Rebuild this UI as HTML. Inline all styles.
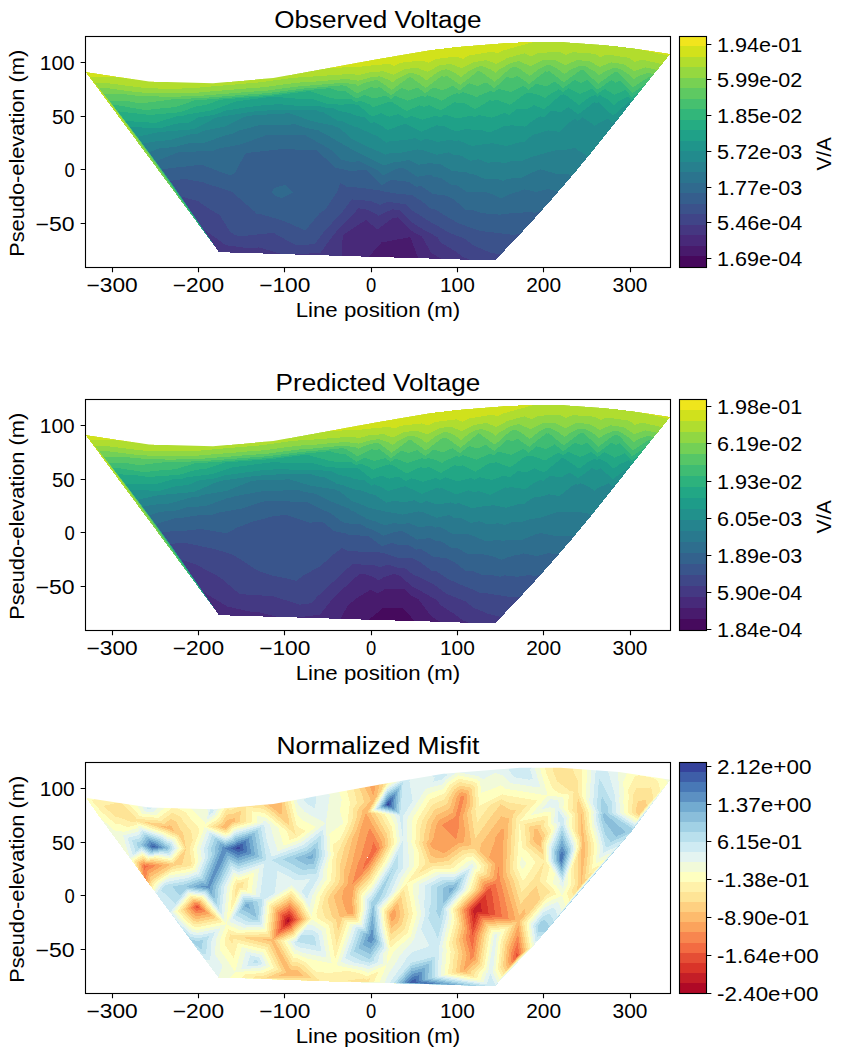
<!DOCTYPE html>
<html><head><meta charset="utf-8"><title>Pseudosections</title>
<style>html,body{margin:0;padding:0;background:#fff}svg{display:block}text{font-family:"Liberation Sans",sans-serif;fill:#000}</style></head>
<body>
<svg width="846" height="1056" viewBox="0 0 846 1056">
<rect width="846" height="1056" fill="#fff"/>
<g shape-rendering="crispEdges">
<path fill="#46085c" d="M389.6 257.3L390.6 256.1L393.1 255.7L393.8 257.5L391.5 257.4Z"/>
<path fill="#481a6c" d="M393.8 257.5L393.1 255.7L390.6 256.1L389.6 257.3L368.8 256.7L381.4 242.5L410.3 237.1L418.3 258.2Z"/>
<path fill="#482979" d="M418.3 258.2L410.3 237.1L381.4 242.5L368.8 256.7L357 256.4L341.9 255.9L342.7 235.4L343.4 234.6L366 219.9L377.2 229.5L392.2 218.4L398.2 217.3L411.6 230.8L414.4 232.7L421.9 236.7L431.2 252.8L441.4 258.9L426 258.4Z"/>
<path fill="#453781" d="M441.4 258.9L431.2 252.8L421.9 236.7L414.4 232.7L411.6 230.8L398.2 217.3L392.2 218.4L377.2 229.5L366 219.9L343.4 234.6L342.7 235.4L341.9 255.9L322.5 255.3L295.4 254.5L320.6 252.6L333.9 234.4L338.4 229.3L343.2 224.3L354.1 213.4L358.1 208.3L362.2 208.7L365.6 209.1L375.9 213.8L378.6 216.1L381.6 213.9L392.9 209.3L396.5 209.9L399.6 210.2L404.2 214.3L412.5 222.7L419.3 227.3L437.6 237.2L440.7 242.6L454.7 250.9L462.9 256.9L469.4 259.7L460.5 259.5ZM218.9 252L203.9 230.1L202.4 227.5L204.2 229.6L225.8 245.2L250.1 248.4L259.1 247.4L281.7 254.1L253.5 253.2L219 252.2Z"/>
<path fill="#404588" d="M469.4 259.7L462.9 256.9L454.7 250.9L440.7 242.6L437.6 237.2L419.3 227.3L412.5 222.7L404.2 214.3L399.6 210.2L396.5 209.9L392.9 209.3L381.6 213.9L378.6 216.1L375.9 213.8L365.6 209.1L362.2 208.7L358.1 208.3L354.1 213.4L343.2 224.3L338.4 229.3L333.9 234.4L320.6 252.6L295.4 254.5L288 254.3L281.7 254.1L259.1 247.4L250.1 248.4L225.8 245.2L204.2 229.6L202.4 227.5L203.9 230.1L218.9 252L218.7 251.8L182.5 198.8L181.3 196.7L197.6 200.8L210.9 210L219.7 215L229.7 231.3L235.3 235.3L241.6 236.2L271.5 233L273 232.8L273.3 232.9L273.6 233L296.4 245.5L314.8 244.1L322 234.1L333.2 221.7L341.2 213.3L345 208.2L351.9 199.4L363.1 200.3L372.4 201.6L379.8 204.9L387.8 201.7L397.2 203.3L405.1 203.9L413.6 211.5L418.8 214.6L426.2 219.6L437.9 226L446.2 231.1L449.6 233L463.6 238.1L473.7 245.4L489.4 252.3L500.5 254.7L495 260.5Z"/>
<path fill="#3b528b" d="M500.5 254.7L489.4 252.3L473.7 245.4L463.6 238.1L449.6 233L446.2 231.1L437.9 226L426.2 219.6L418.8 214.6L413.6 211.5L405.1 203.9L397.2 203.3L387.8 201.7L379.8 204.9L372.4 201.6L363.1 200.3L351.9 199.4L345 208.2L341.2 213.3L333.2 221.7L322 234.1L314.8 244.1L296.4 245.5L273.6 233L273.3 232.9L273 232.8L271.5 233L241.6 236.2L235.3 235.3L229.7 231.3L219.7 215L210.9 210L197.6 200.8L181.3 196.7L182.5 198.8L218.7 251.8L218.4 251.4L174.3 186.9L170.1 181L184.4 178.9L202.3 182.1L214 186L231.4 191.5L238 197.1L255.1 212L256.3 214L259.4 213.7L284.5 221.2L305.3 230.5L319.8 213L324.9 209.9L337.2 192L340.3 182.9L347.3 187.1L351.1 187L364.4 188.2L380.3 190.6L381.2 191.5L381.8 191.1L386.4 191.9L398.2 193.9L412.9 195.1L415.1 197.1L421.4 200.8L431.2 208.9L435.3 209.4L444.7 215.3L447.6 217.1L458.5 223.2L473.4 228.7L480.8 231.2L486.6 231.6L510.9 234.6L515.1 234.6L520.4 233.8L514.5 240.1Z"/>
<path fill="#355e8d" d="M520.4 233.8L515.1 234.6L510.9 234.6L486.6 231.6L480.8 231.2L473.4 228.7L458.5 223.2L447.6 217.1L444.7 215.3L435.3 209.4L431.2 208.9L421.4 200.8L415.1 197.1L412.9 195.1L398.2 193.9L386.4 191.9L381.8 191.1L381.2 191.5L380.3 190.6L364.4 188.2L351.1 187L347.3 187.1L340.3 182.9L337.2 192L324.9 209.9L319.8 213L305.3 230.5L284.5 221.2L259.4 213.7L256.3 214L255.1 212L238 197.1L231.4 191.5L214 186L202.3 182.1L184.4 178.9L170.1 181L174.3 186.9L218.4 251.4L218.1 251L174.1 186.6L161.7 169.4L171.1 168L190.3 166.1L201.4 164.5L220.6 172L226.7 174.1L230.9 175.4L235.2 172.4L242.3 159L245.7 153.5L247.8 153.1L248.9 152.7L279.7 149.3L285.8 149.3L316.2 150L317.3 150.6L317.8 150.9L332.5 165.4L334.8 167.6L348.9 170.6L349.1 170.7L366.2 170.3L366.3 170.3L366.4 170.3L381.9 184.9L391.8 179.7L399.5 181L408.8 181.7L416.2 186.8L420.8 186L430.6 192.3L432.7 194L447.2 195.8L449.6 197.3L455.1 200.4L465.7 209.8L470.7 209.6L482.6 213.3L497.5 214.3L499.7 215.3L502.9 213.6L517.2 213.4L529.3 211.6L534.6 213L541.6 210.6L534 219.2ZM274.4 187.9L271.3 192.3L274.7 195.6L281.9 198L293 192.3L285.1 184.8Z"/>
<path fill="#306a8e" d="M541.6 210.6L534.6 213L529.3 211.6L517.2 213.4L502.9 213.6L499.7 215.3L497.5 214.3L482.6 213.3L470.7 209.6L465.7 209.8L455.1 200.4L449.6 197.3L447.2 195.8L432.7 194L430.6 192.3L420.8 186L416.2 186.8L408.8 181.7L399.5 181L391.8 179.7L381.9 184.9L366.4 170.3L366.3 170.3L366.2 170.3L349.1 170.7L348.9 170.6L334.8 167.6L332.5 165.4L317.8 150.9L317.3 150.6L316.2 150L285.8 149.3L279.7 149.3L248.9 152.7L247.8 153.1L245.7 153.5L242.3 159L235.2 172.4L230.9 175.4L226.7 174.1L220.6 172L201.4 164.5L190.3 166.1L171.1 168L161.7 169.4L174.1 186.6L218.1 251L217.6 250.3L173.8 186.2L159.4 166.3L155.7 161.3L178.4 152.3L179.6 152.2L181.8 151.8L211.7 151.2L219.2 148.5L240.7 144.4L267.1 134.9L268 134.8L299.3 134.8L304.5 134.9L322.4 144.8L331.4 150.1L333.9 152.6L341.7 159.9L350 161.7L360.1 161.4L366.8 164.9L369.7 166.2L376.9 169.9L382.9 175.6L394.4 169.6L399.7 167.9L400.9 167.8L402.4 167.5L406.3 169.4L417.2 176.9L430.4 174.6L434.4 177.1L440.7 177.8L450.9 184.6L456.4 185.1L467.4 192.1L483.2 191.7L484.7 192.3L485.9 192.2L491.8 194.1L501.4 198.4L508.3 194.8L516.9 191.7L519.4 191.5L524 189.3L536.6 192L548.4 188.9L554.1 190.6L559 190.9L553.5 197.4ZM285.1 184.8L293 192.3L281.9 198L274.7 195.6L271.3 192.3L274.4 187.9Z"/>
<path fill="#2b748e" d="M559 190.9L554.1 190.6L548.4 188.9L536.6 192L524 189.3L519.4 191.5L516.9 191.7L508.3 194.8L501.4 198.4L491.8 194.1L485.9 192.2L484.7 192.3L483.2 191.7L467.4 192.1L456.4 185.1L450.9 184.6L440.7 177.8L434.4 177.1L430.4 174.6L417.2 176.9L406.3 169.4L402.4 167.5L400.9 167.8L399.7 167.9L394.4 169.6L382.9 175.6L376.9 169.9L369.7 166.2L366.8 164.9L360.1 161.4L350 161.7L341.7 159.9L333.9 152.6L331.4 150.1L322.4 144.8L304.5 134.9L299.3 134.8L268 134.8L267.1 134.9L240.7 144.4L219.2 148.5L211.7 151.2L181.8 151.8L179.6 152.2L178.4 152.3L155.7 161.3L159.4 166.3L173.8 186.2L217.6 250.3L216.9 249.3L173.3 185.6L159 165.8L149.1 152.3L158.5 148.6L175.4 146.9L189.3 143.1L204.9 142.7L225.6 135.2L232 133.9L237.6 131L259.9 125L276.4 125.1L295.9 124.3L305.7 127.8L318.5 130.4L329.7 136.6L335.3 139.9L351.4 149.1L351.4 149.1L351.4 149.1L351.4 149.1L367.6 157.5L374.5 160.6L384 165.5L395.5 161.8L401.5 161.5L408.7 160L418.4 164.7L431.3 163L435.6 164.5L439.5 163.8L449.6 169.3L452.2 171L467.2 172.4L469.2 173.7L472.1 173.6L485.9 179.4L497.2 178.8L503.1 180.7L508.9 178.6L520.7 178.1L533.4 172L537.4 170.3L538.7 169.9L540.8 169.4L555.5 173.5L555.7 173.5L572.9 174.8Z"/>
<path fill="#27808e" d="M572.9 174.8L555.7 173.5L555.5 173.5L540.8 169.4L538.7 169.9L537.4 170.3L533.4 172L520.7 178.1L508.9 178.6L503.1 180.7L497.2 178.8L485.9 179.4L472.1 173.6L469.2 173.7L467.2 172.4L452.2 171L449.6 169.3L439.5 163.8L435.6 164.5L431.3 163L418.4 164.7L408.7 160L401.5 161.5L395.5 161.8L384 165.5L374.5 160.6L367.6 157.5L351.4 149.1L351.4 149.1L351.4 149.1L351.4 149.1L335.3 139.9L329.7 136.6L318.5 130.4L305.7 127.8L295.9 124.3L276.4 125.1L259.9 125L237.6 131L232 133.9L225.6 135.2L204.9 142.7L189.3 143.1L175.4 146.9L158.5 148.6L149.1 152.3L159 165.8L173.3 185.6L216.9 249.3L215.9 247.9L172.6 184.7L158.4 165L144.5 146.2L142.7 143.8L151.7 141.8L169.9 140L189.8 134.5L197.8 133.8L203.5 130.8L225.5 126.3L244.3 116.7L252.1 115.5L253.9 115.2L286.8 113.4L287.5 113.4L290 113.4L311.6 121.1L334.1 125.8L336.7 127.3L337.7 127.5L340.2 128.6L352.4 139.4L357.6 141.7L368.7 147.2L370.9 148.1L381.3 152.7L385.1 154.7L389.7 153.2L402.5 152.5L417.5 149.3L419.8 150.4L422.9 150L436.6 154.8L448.9 152.3L453.8 155L461 155.6L470.5 160.9L478.1 159.3L487.5 162.6L499 162.1L504.7 163.5L511.7 161L522.3 160.7L530 157.5L540.1 154.5L556.5 150L557.8 150.4L559.3 150.5L569.4 149.2L575.4 147.8L577.7 150L588.1 156.5L573 174.8Z"/>
<path fill="#228b8d" d="M588.1 156.5L577.7 150L575.4 147.8L569.4 149.2L559.3 150.5L557.8 150.4L556.5 150L540.1 154.5L530 157.5L522.3 160.7L511.7 161L504.7 163.5L499 162.1L487.5 162.6L478.1 159.3L470.5 160.9L461 155.6L453.8 155L448.9 152.3L436.6 154.8L422.9 150L419.8 150.4L417.5 149.3L402.5 152.5L389.7 153.2L385.1 154.7L381.3 152.7L370.9 148.1L368.7 147.2L357.6 141.7L352.4 139.4L340.2 128.6L337.7 127.5L336.7 127.3L334.1 125.8L311.6 121.1L290 113.4L287.5 113.4L286.8 113.4L253.9 115.2L252.1 115.5L244.3 116.7L225.5 126.3L203.5 130.8L197.8 133.8L189.8 134.5L169.9 140L151.7 141.8L142.7 143.8L144.5 146.2L158.4 165L172.6 184.7L215.9 247.9L214.4 246L171.7 183.5L157.6 164L143.9 145.4L137.4 136.8L158.4 132.1L163.7 132.3L166.3 131.5L194 129.2L215.7 117.8L218 117.4L219.4 116.9L249.2 112.2L258 111L283.6 109.6L290.4 110.1L316.3 110.4L319.9 111.7L323.7 112.5L337.4 120.5L342.7 121.5L353.8 126.5L357.1 127.2L366.4 131.4L370.2 133.2L378.3 136.6L386.3 142.7L391.1 140.9L403.7 140.3L415 138L420.8 140.9L426.1 138.6L437.8 141.9L451.2 139.6L455.1 141.4L458.5 140.4L470.4 145.4L471.8 146.3L475.5 145.5L487.9 143.5L489.3 143.9L491.2 143L506.2 146L506.4 146L506.4 146L521 141.8L523.9 142.1L532.2 135.2L542.1 132.2L548.1 130.4L559.5 131.9L568.5 123.1L574.9 118.9L577.7 121L582.5 117.4L594.2 125.3L594.7 125.9L595.1 125.3L607.6 118.6L612.3 123.2L620.4 116.2L611.9 126.9L592.4 151.3Z"/>
<path fill="#1f958b" d="M620.4 116.2L612.3 123.2L607.6 118.6L595.1 125.3L594.7 125.9L594.2 125.3L582.5 117.4L577.7 121L574.9 118.9L568.5 123.1L559.5 131.9L548.1 130.4L542.1 132.2L532.2 135.2L523.9 142.1L521 141.8L506.4 146L506.4 146L506.2 146L491.2 143L489.3 143.9L487.9 143.5L475.5 145.5L471.8 146.3L470.4 145.4L458.5 140.4L455.1 141.4L451.2 139.6L437.8 141.9L426.1 138.6L420.8 140.9L415 138L403.7 140.3L391.1 140.9L386.3 142.7L378.3 136.6L370.2 133.2L366.4 131.4L357.1 127.2L353.8 126.5L342.7 121.5L337.4 120.5L323.7 112.5L319.9 111.7L316.3 110.4L290.4 110.1L283.6 109.6L258 111L249.2 112.2L219.4 116.9L218 117.4L215.7 117.8L194 129.2L166.3 131.5L163.7 132.3L158.4 132.1L137.4 136.8L143.9 145.4L157.6 164L171.7 183.5L214.4 246L212.4 243.3L170.3 181.7L156.5 162.6L143 144.3L129.9 127L160.4 128.3L175.7 123.7L188.7 122.6L198.8 117.3L215.5 114.5L225.9 110.6L245.2 107.5L264 105.1L278.9 104.2L294.5 105.5L318.3 105.7L323.6 107.4L334.1 108.3L338.5 110.9L349.8 113.1L355 115.4L364.7 117.5L371.2 123.1L374.2 122.1L381.2 125.3L387.6 130.2L405.3 123.6L405.4 123.6L405.4 123.6L421.7 131.6L436.6 125.2L439.3 126L442.4 125.5L456 131.5L468.2 128.4L473.3 130.5L479.5 129.5L490.3 132.6L504.8 125.4L508.1 126.1L511.3 125.2L525.3 126.6L532 121.1L540.2 116.2L543.4 117.6L551 110.9L561.2 112L568.6 107.1L578.3 114.4L594.4 102L596.6 103.4L598.9 102.2L612.9 115.8L628.9 102L630.8 101.1L631.5 101.8L632.2 101.4L631.4 102.3Z"/>
<path fill="#1fa188" d="M632.2 101.4L631.5 101.8L630.8 101.1L628.9 102L612.9 115.8L598.9 102.2L596.6 103.4L594.4 102L578.3 114.4L568.6 107.1L561.2 112L551 110.9L543.4 117.6L540.2 116.2L532 121.1L525.3 126.6L511.3 125.2L508.1 126.1L504.8 125.4L490.3 132.6L479.5 129.5L473.3 130.5L468.2 128.4L456 131.5L442.4 125.5L439.3 126L436.6 125.2L421.7 131.6L405.4 123.6L405.4 123.6L405.3 123.6L387.6 130.2L381.2 125.3L374.2 122.1L371.2 123.1L364.7 117.5L355 115.4L349.8 113.1L338.5 110.9L334.1 108.3L323.6 107.4L318.3 105.7L294.5 105.5L278.9 104.2L264 105.1L245.2 107.5L225.9 110.6L215.5 114.5L198.8 117.3L188.7 122.6L175.7 123.7L160.4 128.3L129.9 127L143 144.3L156.5 162.6L170.3 181.7L212.4 243.3L209.6 239.5L168.4 179.2L154.9 160.6L141.7 142.6L128.9 125.7L124.9 120.5L138.2 122L155.8 122.8L176.5 116.4L183.1 115.8L186.5 114.6L212.1 110.4L235.2 101.6L239.6 100.9L272.2 96.7L272.3 96.7L272.3 96.7L272.4 96.7L300.3 98.9L312.8 99L326.7 103.6L339.2 104.6L354.9 104.3L356.1 105L356.9 104.7L358.8 105.4L371.9 116.6L381.3 113.2L389 116.7L398.8 114.1L405.9 118.4L411.2 116L422.8 119.7L436 115.4L440.2 117.4L445.1 114.4L457.2 118.4L471.1 115.6L474.5 117.5L478.6 114.9L491.7 117.7L504.2 113L509.2 114.8L517.6 108.6L526.9 109.4L534 105.1L544.1 109.4L559.9 95.7L561.9 94.5L562.6 95.1L563.6 94.4L567.3 96.1L579.1 105.1L588.4 97.9L595 94.9L597.2 96.9L599.8 95L608.1 99.8L613.8 105.3L618.9 101L628.4 96.5L631.6 99.8L635.3 97.5Z"/>
<path fill="#25ac82" d="M635.3 97.5L631.6 99.8L628.4 96.5L618.9 101L613.8 105.3L608.1 99.8L599.8 95L597.2 96.9L595 94.9L588.4 97.9L579.1 105.1L567.3 96.1L563.6 94.4L562.6 95.1L561.9 94.5L559.9 95.7L544.1 109.4L534 105.1L526.9 109.4L517.6 108.6L509.2 114.8L504.2 113L491.7 117.7L478.6 114.9L474.5 117.5L471.1 115.6L457.2 118.4L445.1 114.4L440.2 117.4L436 115.4L422.8 119.7L411.2 116L405.9 118.4L398.8 114.1L389 116.7L381.3 113.2L371.9 116.6L358.8 105.4L356.9 104.7L356.1 105L354.9 104.3L339.2 104.6L326.7 103.6L312.8 99L300.3 98.9L272.4 96.7L272.3 96.7L272.3 96.7L272.2 96.7L239.6 100.9L235.2 101.6L212.1 110.4L186.5 114.6L183.1 115.8L176.5 116.4L155.8 122.8L138.2 122L124.9 120.5L128.9 125.7L141.7 142.6L154.9 160.6L168.4 179.2L209.6 239.5L205.5 234L165.7 175.8L152.7 157.7L139.9 140.3L127.5 124L117.8 111.3L146.6 114.6L149.4 115.1L149.7 115L180.1 112.2L196.2 106.4L207.2 104.6L220.3 99.7L237.3 98.3L238.7 98.2L271.6 95.9L273.3 95.6L306.6 91.4L306.9 91.4L309.8 91.2L331.2 98.3L339.8 99L350.6 98.7L356.4 102.4L360.2 100.6L369.3 104.3L372.9 107.4L387.1 102.3L390.2 101.5L390.5 101.8L390.8 101.6L391.5 101.8L406.6 111L419.6 105.3L424.1 106.7L429.2 105.1L440.8 110.5L454.7 102.1L458.6 103.4L463.1 102.5L475.3 109.2L489.9 100.2L493.2 100.9L496.4 99.7L510.1 104.8L523.9 94.6L527.2 92.9L528.2 93.6L529.7 92.5L538.2 94.9L545.1 97.9L548.1 95.3L559 89.2L562.9 92.2L568.3 88.3L580.1 94L591.8 88.8L597.4 93.9L604.5 88.8L614.7 94.8L625.1 89.9L631.9 97L639.7 92Z"/>
<path fill="#32b67a" d="M639.7 92L631.9 97L625.1 89.9L614.7 94.8L604.5 88.8L597.4 93.9L591.8 88.8L580.1 94L568.3 88.3L562.9 92.2L559 89.2L548.1 95.3L545.1 97.9L538.2 94.9L529.7 92.5L528.2 93.6L527.2 92.9L523.9 94.6L510.1 104.8L496.4 99.7L493.2 100.9L489.9 100.2L475.3 109.2L463.1 102.5L458.6 103.4L454.7 102.1L440.8 110.5L429.2 105.1L424.1 106.7L419.6 105.3L406.6 111L391.5 101.8L390.8 101.6L390.5 101.8L390.2 101.5L387.1 102.3L372.9 107.4L369.3 104.3L360.2 100.6L356.4 102.4L350.6 98.7L339.8 99L331.2 98.3L309.8 91.2L306.9 91.4L306.6 91.4L273.3 95.6L271.6 95.9L238.7 98.2L237.3 98.3L220.3 99.7L207.2 104.6L196.2 106.4L180.1 112.2L149.7 115L149.4 115.1L146.6 114.6L117.8 111.3L127.5 124L139.9 140.3L152.7 157.7L165.7 175.8L205.5 234L199.9 226.4L161.9 170.9L149.5 153.6L137.3 137.1L125.5 121.5L114 106.6L113.1 105.3L119 105.5L145.6 110.2L157.2 108.8L175.8 107.1L195.6 100L203 99.8L204.2 99.7L236.3 97.2L240 96.8L270.6 94.7L274.6 94.1L305.5 90.2L308.1 90L329.9 88.2L337.6 90.7L340.7 91L344.6 90.9L356.8 98.7L364.7 94.9L373.8 98.5L385.8 95.5L390.8 99.1L395.1 95.9L407.1 100.3L407.6 100.6L408.9 100.1L422.8 95.5L425 97L427.2 95.4L435.2 97.8L441.8 100.8L448.2 96.9L457.3 92.8L459.5 94.3L462.4 92L473.2 95.7L476.4 97.5L479.5 95.5L491.1 90.6L493.9 92.7L498.3 88.8L511.2 92L523.2 85.8L528.6 89.6L536.3 83.7L546.1 86.5L554.8 81.6L563.2 88.1L574.8 79.8L581 82.8L587.2 80L597.8 89.7L611.2 80.1L615.7 82.7L620.3 80.5L632.2 93L645.8 84.3Z"/>
<path fill="#46c06f" d="M645.8 84.3L632.2 93L620.3 80.5L615.7 82.7L611.2 80.1L597.8 89.7L587.2 80L581 82.8L574.8 79.8L563.2 88.1L554.8 81.6L546.1 86.5L536.3 83.7L528.6 89.6L523.2 85.8L511.2 92L498.3 88.8L493.9 92.7L491.1 90.6L479.5 95.5L476.4 97.5L473.2 95.7L462.4 92L459.5 94.3L457.3 92.8L448.2 96.9L441.8 100.8L435.2 97.8L427.2 95.4L425 97L422.8 95.5L408.9 100.1L407.6 100.6L407.1 100.3L395.1 95.9L390.8 99.1L385.8 95.5L373.8 98.5L364.7 94.9L356.8 98.7L344.6 90.9L340.7 91L337.6 90.7L329.9 88.2L308.1 90L305.5 90.2L274.6 94.1L270.6 94.7L240 96.8L236.3 97.2L204.2 99.7L203 99.8L195.6 100L175.8 107.1L157.2 108.8L145.6 110.2L119 105.5L113.1 105.3L114 106.6L125.5 121.5L137.3 137.1L149.5 153.6L161.9 170.9L199.9 226.4L191.8 215.5L156.6 163.9L145 147.9L133.6 132.5L122.7 118L112 104.1L109.2 100.5L126.7 100.9L140.3 103.4L167.8 100.1L169.8 99.9L171.9 99.1L201.7 98.2L206.3 97.7L234.8 95.5L242 94.9L269.1 93L276.5 91.9L304 88.5L309.7 88.1L340.3 85.5L342 85.4L345.5 85.8L357.4 93.4L371.2 86.8L374.9 88.3L379.7 87.1L391.1 95.3L401.3 88L408.6 90.6L417.5 87.7L425.4 93.2L433.1 87.4L442.7 90.3L452.8 85.7L459.8 90.4L469.1 83.1L477.4 86L486.1 82.3L494.4 88.2L506.9 77.1L512.4 78.5L517.5 75.8L529.1 84L545.5 71.3L547.4 71.8L549 70.9L563.7 82.3L580.5 70.3L581.8 69.7L582.5 69.8L583.7 70.5L598.3 83.8L613.5 72.8L615.9 71.8L617.3 72L619.4 73.5L632.7 87.3L648.1 77.5L650.3 76.8L651.6 77.1L650.9 78Z"/>
<path fill="#5ec962" d="M651.6 77.1L650.3 76.8L648.1 77.5L632.7 87.3L619.4 73.5L617.3 72L615.9 71.8L613.5 72.8L598.3 83.8L583.7 70.5L582.5 69.8L581.8 69.7L580.5 70.3L563.7 82.3L549 70.9L547.4 71.8L545.5 71.3L529.1 84L517.5 75.8L512.4 78.5L506.9 77.1L494.4 88.2L486.1 82.3L477.4 86L469.1 83.1L459.8 90.4L452.8 85.7L442.7 90.3L433.1 87.4L425.4 93.2L417.5 87.7L408.6 90.6L401.3 88L391.1 95.3L379.7 87.1L374.9 88.3L371.2 86.8L357.4 93.4L345.5 85.8L342 85.4L340.3 85.5L309.7 88.1L304 88.5L276.5 91.9L269.1 93L242 94.9L234.8 95.5L206.3 97.7L201.7 98.2L171.9 99.1L169.8 99.9L167.8 100.1L140.3 103.4L126.7 100.9L109.2 100.5L112 104.1L122.7 118L133.6 132.5L145 147.9L156.6 163.9L191.8 215.5L180.5 200.2L149 154.1L138.6 139.8L128.5 126.1L118.7 113.1L109.2 100.7L103.8 93.7L124.9 94.2L134.1 95.4L135.4 95.6L167.2 96.8L171.7 96.8L199.8 95.9L209.2 95L232.8 93.2L244.7 92.2L267.1 90.6L279.2 88.9L301.9 86L311.9 85.4L338.4 83.1L344.1 82.8L355.6 84.3L358.1 86L364.4 83L374.7 80.2L376.6 80L379.1 80.9L391.7 89.9L409.9 76.7L410 76.7L410 76.7L425.9 87.9L441.5 76.1L444 76.9L446.6 75.7L460.4 84.9L478.6 70.6L478.8 70.6L479 70.6L494.9 81.8L509.9 68.6L512.5 67.2L514.6 66.6L519 68.4L529.8 76L539.6 68.5L545.9 65.4L550.1 65.2L557.8 69L564.5 74.1L570.6 69.7L579.6 65.8L585.3 66.2L594.5 71.3L599 75.4L603.7 72L613.8 67.9L619.9 68.8L629.1 74.8L633.4 79.3L638.4 76.2L648.3 72.9L654 74.1Z"/>
<path fill="#77d153" d="M654 74.1L648.3 72.9L638.4 76.2L633.4 79.3L629.1 74.8L619.9 68.8L613.8 67.9L603.7 72L599 75.4L594.5 71.3L585.3 66.2L579.6 65.8L570.6 69.7L564.5 74.1L557.8 69L550.1 65.2L545.9 65.4L539.6 68.5L529.8 76L519 68.4L514.6 66.6L512.5 67.2L509.9 68.6L494.9 81.8L479 70.6L478.8 70.6L478.6 70.6L460.4 84.9L446.6 75.7L444 76.9L441.5 76.1L425.9 87.9L410 76.7L410 76.7L409.9 76.7L391.7 89.9L379.1 80.9L376.6 80L374.7 80.2L364.4 83L358.1 86L355.6 84.3L344.1 82.8L338.4 83.1L311.9 85.4L301.9 86L279.2 88.9L267.1 90.6L244.7 92.2L232.8 93.2L209.2 95L199.8 95.9L171.7 96.8L167.2 96.8L135.4 95.6L134.1 95.4L124.9 94.2L103.8 93.7L109.2 100.7L118.7 113.1L128.5 126.1L138.6 139.8L149 154.1L180.5 200.2L164.5 178.6L138.3 140.3L129.7 128.3L121.3 116.9L113.1 106.2L105.2 95.8L98.8 87.5L102.8 87.6L131 91.4L139.6 92.4L164.3 93.4L175.8 93.4L197.1 92.7L213.4 91.2L229.8 89.9L248.5 88.3L264.2 87.2L283 84.5L298.9 82.6L315.1 81.6L335.7 79.8L347 79.1L358.7 80.7L372.2 77L379.4 76.4L388.6 79.6L392.5 82.3L398 78.3L407.8 73.5L412.7 73L419.6 75.4L426.6 80.4L436.1 73.2L442.8 69.8L446.5 69.3L453 71.7L461.1 77.1L469.1 70.8L476.8 66.9L481.9 66.1L491.2 69.6L495.7 72.8L499.9 69.1L510.2 63.4L518.6 61.1L530.6 66.2L543 60.1L554.2 59.7L565.2 65.2L576.7 60.1L589.2 61L599.7 66.9L610.9 62.4L623.5 64.2L634.1 71.1L645.5 67.4L657.3 70Z"/>
<path fill="#95d840" d="M657.3 70L645.5 67.4L634.1 71.1L623.5 64.2L610.9 62.4L599.7 66.9L589.2 61L576.7 60.1L565.2 65.2L554.2 59.7L543 60.1L530.6 66.2L518.6 61.1L510.2 63.4L499.9 69.1L495.7 72.8L491.2 69.6L481.9 66.1L476.8 66.9L469.1 70.8L461.1 77.1L453 71.7L446.5 69.3L442.8 69.8L436.1 73.2L426.6 80.4L419.6 75.4L412.7 73L407.8 73.5L398 78.3L392.5 82.3L388.6 79.6L379.4 76.4L372.2 77L358.7 80.7L347 79.1L335.7 79.8L315.1 81.6L298.9 82.6L283 84.5L264.2 87.2L248.5 88.3L229.8 89.9L213.4 91.2L197.1 92.7L175.8 93.4L164.3 93.4L139.6 92.4L131 91.4L102.8 87.6L98.8 87.5L105.2 95.8L113.1 106.2L121.3 116.9L129.7 128.3L138.3 140.3L164.5 178.6L141.9 148.1L123.2 120.7L117 112.2L111 104L105.2 96.3L99.5 89L95 83L109.5 83.4L126.6 85.7L145.5 88L160.2 88.6L181.5 88.5L193.3 88.1L219.3 85.8L225.7 85.3L254 82.8L260.1 82.4L288.4 78.4L294.6 77.7L319.7 76.1L331.9 75.1L351.1 74L359.3 75.1L368.8 72.5L383.3 71.2L393.2 74.7L404.6 69.1L416.5 67.8L427.5 71.6L439.8 65.3L450.5 64L461.9 68.2L473.8 62.2L486.3 60.1L496.5 64L507.1 58.1L524.3 53.3L531.5 56.4L538.9 52.8L560 52L566.1 55L572.4 52.2L594.7 53.8L600.5 57.1L606.7 54.5L628.7 57.7L634.9 61.8L641.6 59.6L662.1 64.1Z"/>
<path fill="#b2dd2d" d="M324.5 68.6L326.1 68.5L326.4 68.4L356.9 66.7L360.1 67.1L363.9 66.1L388.9 63.9L394.1 65.8L400.1 62.8L421.9 60.5L428.3 62.7L435.5 59L456.2 56.5L462.8 58.9L469.6 55.4L492.4 51.6L497.4 53.5L502.6 50.6L532.3 42.4L532.7 42.5L533.1 42.4L543.6 42L567.2 42.3L601.6 44.7L636 48.6L636.7 48.7L668.8 55.8L662.1 64.1L641.6 59.6L634.9 61.8L628.7 57.7L606.7 54.5L600.5 57.1L594.7 53.8L572.4 52.2L566.1 55L560 52L538.9 52.8L531.5 56.4L524.3 53.3L507.1 58.1L496.5 64L486.3 60.1L473.8 62.2L461.9 68.2L450.5 64L439.8 65.3L427.5 71.6L416.5 67.8L404.6 69.1L393.2 74.7L383.3 71.2L368.8 72.5L359.3 75.1L351.1 74L331.9 75.1L319.7 76.1L294.6 77.7L288.4 78.4L260.1 82.4L254 82.8L225.7 85.3L219.3 85.8L193.3 88.1L181.5 88.5L160.2 88.6L145.5 88L126.6 85.7L109.5 83.4L95 83L99.5 89L105.2 96.3L111 104L117 112.2L123.2 120.7L141.9 148.1L110 105L101.8 93.1L99.1 89.4L96.5 85.8L94 82.5L91.5 79.3L89.6 76.7L119 77.5L120.4 77.7L153.9 81.8L154.4 81.8L162.3 81.8L188.6 82.5L223 82.3L257.5 79.3L291.9 74.5Z"/>
<path fill="#d2e21b" d="M162.3 81.8L154.4 81.8L153.9 81.8L120.4 77.7L119 77.5L89.6 76.7L91.5 79.3L94 82.5L96.5 85.8L99.1 89.4L101.8 93.1L110 105L85.4 71.8L119.8 77L154.2 81.5ZM429.5 50.1L463.9 46.2L498.3 43.5L532.8 41.8L543.6 42L533.1 42.4L532.7 42.5L532.3 42.4L502.6 50.6L497.4 53.5L492.4 51.6L469.6 55.4L462.8 58.9L456.2 56.5L435.5 59L428.3 62.7L421.9 60.5L400.1 62.8L394.1 65.8L388.9 63.9L363.9 66.1L360.1 67.1L356.9 66.7L326.4 68.4L326.1 68.5L324.5 68.6L326.3 68.2L360.7 61.9L395.1 55.9ZM668.8 55.8L636.7 48.7L670.4 53.8Z"/>
<path fill="#f1e51d" d="M429.5 50.1"/>
</g>
<polygon fill="#fff" points="85.4,71.8 149.1,81.4 213,83.2 273.3,77.9 380,58.4 443.3,47.8 520.2,41.8 560.5,41.8 619,46 670.4,53.8 670.5,36.5 85.5,36.5"/>
<g shape-rendering="crispEdges">
<rect x="679.5" y="256.22" width="27" height="10.50" fill="#46085c"/>
<rect x="679.5" y="245.72" width="27" height="10.50" fill="#481a6c"/>
<rect x="679.5" y="235.22" width="27" height="10.50" fill="#482979"/>
<rect x="679.5" y="224.72" width="27" height="10.50" fill="#453781"/>
<rect x="679.5" y="214.22" width="27" height="10.50" fill="#404588"/>
<rect x="679.5" y="203.72" width="27" height="10.50" fill="#3b528b"/>
<rect x="679.5" y="193.22" width="27" height="10.50" fill="#355e8d"/>
<rect x="679.5" y="182.72" width="27" height="10.50" fill="#306a8e"/>
<rect x="679.5" y="172.22" width="27" height="10.50" fill="#2b748e"/>
<rect x="679.5" y="161.72" width="27" height="10.50" fill="#27808e"/>
<rect x="679.5" y="151.22" width="27" height="10.50" fill="#228b8d"/>
<rect x="679.5" y="140.72" width="27" height="10.50" fill="#1f958b"/>
<rect x="679.5" y="130.22" width="27" height="10.50" fill="#1fa188"/>
<rect x="679.5" y="119.72" width="27" height="10.50" fill="#25ac82"/>
<rect x="679.5" y="109.22" width="27" height="10.50" fill="#32b67a"/>
<rect x="679.5" y="98.72" width="27" height="10.50" fill="#46c06f"/>
<rect x="679.5" y="88.22" width="27" height="10.50" fill="#5ec962"/>
<rect x="679.5" y="77.72" width="27" height="10.50" fill="#77d153"/>
<rect x="679.5" y="67.22" width="27" height="10.50" fill="#95d840"/>
<rect x="679.5" y="56.72" width="27" height="10.50" fill="#b2dd2d"/>
<rect x="679.5" y="46.22" width="27" height="10.50" fill="#d2e21b"/>
<rect x="679.5" y="35.72" width="27" height="10.50" fill="#f1e51d"/>
</g>
<g fill="none" stroke="#000" stroke-width="1.11">
<rect x="85.5" y="36.5" width="585" height="231"/>
<rect x="679.5" y="36.5" width="27" height="231"/>
<path d="M112.5 267.5 v4.86M198.5 267.5 v4.86M284.5 267.5 v4.86M371.5 267.5 v4.86M457.5 267.5 v4.86M543.5 267.5 v4.86M630.5 267.5 v4.86M85.5 223.5 h-4.86M85.5 169.5 h-4.86M85.5 116.5 h-4.86M85.5 62.5 h-4.86M706.5 258.5 h4.86M706.5 222.5 h4.86M706.5 187.5 h4.86M706.5 151.5 h4.86M706.5 115.5 h4.86M706.5 79.5 h4.86M706.5 44.5 h4.86"/>
</g>
<text x="86.53" y="292.06" font-size="19.44" textLength="51.25" lengthAdjust="spacingAndGlyphs">−300</text>
<text x="172.84" y="292.06" font-size="19.44" textLength="51.25" lengthAdjust="spacingAndGlyphs">−200</text>
<text x="259.15" y="292.06" font-size="19.44" textLength="51.25" lengthAdjust="spacingAndGlyphs">−100</text>
<text x="365.96" y="292.06" font-size="19.44" textLength="10.25" lengthAdjust="spacingAndGlyphs">0</text>
<text x="439.96" y="292.06" font-size="19.44" textLength="34.88" lengthAdjust="spacingAndGlyphs">100</text>
<text x="526.26" y="292.06" font-size="19.44" textLength="34.88" lengthAdjust="spacingAndGlyphs">200</text>
<text x="612.57" y="292.06" font-size="19.44" textLength="34.88" lengthAdjust="spacingAndGlyphs">300</text>
<text x="35.56" y="230.91" font-size="19.44" textLength="39.12" lengthAdjust="spacingAndGlyphs">−50</text>
<text x="64.43" y="177.21" font-size="19.44" textLength="10.25" lengthAdjust="spacingAndGlyphs">0</text>
<text x="51.93" y="123.52" font-size="19.44" textLength="22.75" lengthAdjust="spacingAndGlyphs">50</text>
<text x="39.81" y="69.82" font-size="19.44" textLength="34.88" lengthAdjust="spacingAndGlyphs">100</text>
<text x="717.13" y="265.95" font-size="19.44" textLength="85.12" lengthAdjust="spacingAndGlyphs">1.69e-04</text>
<text x="717.13" y="230.24" font-size="19.44" textLength="85.25" lengthAdjust="spacingAndGlyphs">5.46e-04</text>
<text x="717.13" y="194.53" font-size="19.44" textLength="85.12" lengthAdjust="spacingAndGlyphs">1.77e-03</text>
<text x="717.13" y="158.82" font-size="19.44" textLength="85.25" lengthAdjust="spacingAndGlyphs">5.72e-03</text>
<text x="717.13" y="123.11" font-size="19.44" textLength="85.25" lengthAdjust="spacingAndGlyphs">1.85e-02</text>
<text x="717.13" y="87.40" font-size="19.44" textLength="85.25" lengthAdjust="spacingAndGlyphs">5.99e-02</text>
<text x="717.13" y="51.69" font-size="19.44" textLength="85.12" lengthAdjust="spacingAndGlyphs">1.94e-01</text>
<text x="274.15" y="28.00" font-size="23.33" textLength="207.50" lengthAdjust="spacingAndGlyphs">Observed Voltage</text>
<text x="295.65" y="316.61" font-size="19.44" textLength="164.50" lengthAdjust="spacingAndGlyphs">Line position (m)</text>
<text transform="translate(24.00 256.83) rotate(-90)" font-size="19.44" textLength="207.00" lengthAdjust="spacingAndGlyphs">Pseudo-elevation (m)</text>
<text transform="translate(831.26 170.52) rotate(-90)" font-size="19.44" textLength="33.38" lengthAdjust="spacingAndGlyphs">V/A</text>
<g shape-rendering="crispEdges">
<path fill="#460a5d" d="M368.7 619.7L383.1 608L403 608L414.6 621.1L391.5 620.4Z"/>
<path fill="#481b6d" d="M414.6 621.1L403 608L383.1 608L368.7 619.7L357 619.4L340.5 618.9L347.6 605.7L356.9 597.9L370.7 589.8L377.1 593.3L385.1 589.2L404.3 589.3L411.4 595.7L413.5 596.7L418.7 599.6L431 616.1L440 621.8L426 621.4Z"/>
<path fill="#472a7a" d="M440 621.8L431 616.1L418.7 599.6L413.5 596.7L411.4 595.7L404.3 589.3L385.1 589.2L377.1 593.3L370.7 589.8L356.9 597.9L347.6 605.7L340.5 618.9L322.5 618.3L296.8 617.5L319.9 614.6L333.7 597.4L338.7 592.7L343.1 588.7L356.6 576.5L359.6 573.6L361.9 573.9L364.1 573.8L372.4 576.7L378.5 580.1L384.6 576.9L393.9 573.8L396.4 574.6L398.3 574.7L401.6 577.2L412.4 586.9L419.3 590.2L437 600.2L440.9 605.4L455.1 614.5L462.6 620.2L468.7 622.7L460.5 622.5ZM218.9 615L203.9 593.1L202.4 590.5L204.2 592.6L227.4 606.5L250.2 611.6L257.6 612L277.7 617L253.5 616.2L219 615.2Z"/>
<path fill="#443983" d="M468.7 622.7L462.6 620.2L455.1 614.5L440.9 605.4L437 600.2L419.3 590.2L412.4 586.9L401.6 577.2L398.3 574.7L396.4 574.6L393.9 573.8L384.6 576.9L378.5 580.1L372.4 576.7L364.1 573.8L361.9 573.9L359.6 573.6L356.6 576.5L343.1 588.7L338.7 592.7L333.7 597.4L319.9 614.6L296.8 617.5L288 617.3L277.7 617L257.6 612L250.2 611.6L227.4 606.5L204.2 592.6L202.4 590.5L203.9 593.1L218.9 615L218.7 614.8L182.5 561.8L181.3 559.7L196.5 564.8L212.1 573.1L220.2 577.5L235.7 590.8L239.5 594.1L267.3 595.8L272.9 596.2L273.3 596.3L300 604.7L312 603.1L316.9 597L331.9 583L339.3 576.2L345 570.8L352.7 563.6L362.9 564.7L372.5 564.5L379.9 567.1L387.7 564.5L397.1 567.7L404.3 567.8L413.6 574.9L420.2 577.6L427.6 581.1L435.8 585.8L446.2 593.5L450.2 595.3L465.1 601.2L474.1 608L488.4 613.9L501.1 617.1L495 623.5Z"/>
<path fill="#3f4788" d="M501.1 617.1L488.4 613.9L474.1 608L465.1 601.2L450.2 595.3L446.2 593.5L435.8 585.8L427.6 581.1L420.2 577.6L413.6 574.9L404.3 567.8L397.1 567.7L387.7 564.5L379.9 567.1L372.5 564.5L362.9 564.7L352.7 563.6L345 570.8L339.3 576.2L331.9 583L316.9 597L312 603.1L300 604.7L273.3 596.3L272.9 596.2L267.3 595.8L239.5 594.1L235.7 590.8L220.2 577.5L212.1 573.1L196.5 564.8L181.3 559.7L182.5 561.8L218.7 614.8L218.4 614.4L174.3 549.9L170.1 544L183.7 542.5L203.6 546.8L214.2 548.9L232.4 554.5L239.4 558.7L252.8 567.7L261.3 572.1L271.4 575.3L289.4 579.1L296.4 581L302.6 575.8L320.3 566.3L332.8 555L341.9 548.1L347.2 550.7L350.5 550.8L364.3 552.1L379.1 551.8L381.3 553.5L382.9 553L389.5 554.9L398.1 557.8L412.9 558.2L415.2 559.9L420.1 561.9L431.3 570.5L436.4 571.2L447 578.4L447.8 578.9L460.1 584.4L471.6 589L480.9 593.2L487.6 593.5L510.4 597L515.1 597.5L520.5 596.7L514.5 603.1Z"/>
<path fill="#39558c" d="M520.5 596.7L515.1 597.5L510.4 597L487.6 593.5L480.9 593.2L471.6 589L460.1 584.4L447.8 578.9L447 578.4L436.4 571.2L431.3 570.5L420.1 561.9L415.2 559.9L412.9 558.2L398.1 557.8L389.5 554.9L382.9 553L381.3 553.5L379.1 551.8L364.3 552.1L350.5 550.8L347.2 550.7L341.9 548.1L332.8 555L320.3 566.3L302.6 575.8L296.4 581L289.4 579.1L271.4 575.3L261.3 572.1L252.8 567.7L239.4 558.7L232.4 554.5L214.2 548.9L203.6 546.8L183.7 542.5L170.1 544L174.3 549.9L218.4 614.4L218.1 614L174.1 549.6L161.7 532.4L172.4 531.2L191.3 530.3L200 528.8L226.9 533.3L236 528.1L252.1 521.7L274.3 516L282 515.3L283.1 515.3L288.2 515.5L308.9 522.6L323 522.1L332.3 529.7L334.3 531.2L346 533.6L348.9 535L364 535.7L366 535.9L368.2 535.9L382.1 546.2L391.6 542.9L399.4 545.2L409.3 545.4L416.2 549.6L420.8 549L431.2 555.3L432.8 556.5L447.4 558.6L449.6 560.1L454.2 561.9L465.9 570.9L472.2 570.9L482.7 575L496.5 575.6L499.9 577L504 575.3L517.2 576.8L529.5 575L534.6 576.2L541 574.3L534 582.2Z"/>
<path fill="#33628d" d="M541 574.3L534.6 576.2L529.5 575L517.2 576.8L504 575.3L499.9 577L496.5 575.6L482.7 575L472.2 570.9L465.9 570.9L454.2 561.9L449.6 560.1L447.4 558.6L432.8 556.5L431.2 555.3L420.8 549L416.2 549.6L409.3 545.4L399.4 545.2L391.6 542.9L382.1 546.2L368.2 535.9L366 535.9L364 535.7L348.9 535L346 533.6L334.3 531.2L332.3 529.7L323 522.1L308.9 522.6L288.2 515.5L283.1 515.3L282 515.3L274.3 516L252.1 521.7L236 528.1L226.9 533.3L200 528.8L191.3 530.3L172.4 531.2L161.7 532.4L174.1 549.6L218.1 614L217.6 613.3L173.8 549.2L159.4 529.3L155.7 524.3L174.5 518.3L181.7 517.9L194.9 515.6L212.1 514.8L217.9 512.7L241.6 508.6L263.3 501.6L270.5 500.9L295.7 501.7L307.9 502.3L321.2 509.1L330.8 513.2L333.9 515.6L342.4 522.1L350.1 523.7L359.7 523.8L366.9 527.8L370.1 528.7L379.1 532.9L383.2 535.9L392.8 532.6L399.7 531L400.9 531.2L402 531L405.3 532.4L417.2 539.6L430.2 537.9L434.4 540.4L441 541.2L450.9 547.5L456.8 547.6L467.6 553.9L482.8 554L484.8 554.8L486.4 554.6L495.1 557.3L501.6 559.8L506.8 557.7L516.9 554.8L519.3 554.9L523.1 553.3L536.6 556L549.1 553.1L554.1 554.2L558.9 554.1L553.5 560.4Z"/>
<path fill="#2e6e8e" d="M558.9 554.1L554.1 554.2L549.1 553.1L536.6 556L523.1 553.3L519.3 554.9L516.9 554.8L506.8 557.7L501.6 559.8L495.1 557.3L486.4 554.6L484.8 554.8L482.8 554L467.6 553.9L456.8 547.6L450.9 547.5L441 541.2L434.4 540.4L430.2 537.9L417.2 539.6L405.3 532.4L402 531L400.9 531.2L399.7 531L392.8 532.6L383.2 535.9L379.1 532.9L370.1 528.7L366.9 527.8L359.7 523.8L350.1 523.7L342.4 522.1L333.9 515.6L330.8 513.2L321.2 509.1L307.9 502.3L295.7 501.7L270.5 500.9L263.3 501.6L241.6 508.6L217.9 512.7L212.1 514.8L194.9 515.6L181.7 517.9L174.5 518.3L155.7 524.3L159.4 529.3L173.8 549.2L217.6 613.3L216.9 612.3L173.3 548.6L159 528.8L149.1 515.3L160 511.8L175.9 510.6L188.2 507L205.3 506.2L227.3 498.2L232.4 497.3L235.4 496.1L262.6 491.2L273.9 490.8L298.1 490L304.7 491.9L315.5 493.7L328.8 500.5L335.3 503.2L348.8 508.5L351.5 510.6L352.4 510.9L354.6 511.9L367.8 519.3L376.2 521.5L384.3 525.3L394.3 522.9L401.6 524.3L408.7 522.9L418.5 527.2L431.2 525.8L435.6 527.6L439.4 526.8L450 532.3L452.3 533.7L468.3 534.2L469.4 534.9L471 534.9L486.1 541.3L498.9 539.8L503.4 541.1L507.8 539.8L520.7 540.4L533.8 535L537.6 533.7L538.7 533.5L540.4 532.9L555.8 536.2L571.9 536L573.1 535.9L574.3 536.1L573 537.8Z"/>
<path fill="#29798e" d="M574.3 536.1L573.1 535.9L571.9 536L555.8 536.2L540.4 532.9L538.7 533.5L537.6 533.7L533.8 535L520.7 540.4L507.8 539.8L503.4 541.1L498.9 539.8L486.1 541.3L471 534.9L469.4 534.9L468.3 534.2L452.3 533.7L450 532.3L439.4 526.8L435.6 527.6L431.2 525.8L418.5 527.2L408.7 522.9L401.6 524.3L394.3 522.9L384.3 525.3L376.2 521.5L367.8 519.3L354.6 511.9L352.4 510.9L351.5 510.6L348.8 508.5L335.3 503.2L328.8 500.5L315.5 493.7L304.7 491.9L298.1 490L273.9 490.8L262.6 491.2L235.4 496.1L232.4 497.3L227.3 498.2L205.3 506.2L188.2 507L175.9 510.6L160 511.8L149.1 515.3L159 528.8L173.3 548.6L216.9 612.3L215.9 610.9L172.6 547.7L158.4 528L144.5 509.2L142.7 506.8L151.6 504.9L170.2 503.4L190.6 497.5L197.9 496.9L202.2 495L226.9 490.8L250.9 481.2L253.8 480.6L284.6 479.5L289.3 479.4L310.4 485.5L334.6 489.5L336.7 490.6L337.5 490.7L339.9 491.6L352.5 501.4L358.7 503.4L369 507.9L381.6 510.6L384.9 511.4L385.7 511.8L386.7 511.6L402.5 514.6L418.3 511.4L420 512.1L422.2 511.9L436.6 517.7L449 515.2L453.8 517.7L460.6 517.9L470.5 523L479 521.2L487.7 524.3L497.9 523.3L504.9 524.9L513.8 521.5L522.4 521.9L529.4 519.4L540.1 517.8L557.3 512.1L557.9 512.2L558.6 512.2L566.4 512L575.3 511.5L592.4 514.2L592.5 514.2L592.6 514.1L592.4 514.3Z"/>
<path fill="#25848e" d="M592.6 514.1L592.5 514.2L592.4 514.2L575.3 511.5L566.4 512L558.6 512.2L557.9 512.2L557.3 512.1L540.1 517.8L529.4 519.4L522.4 521.9L513.8 521.5L504.9 524.9L497.9 523.3L487.7 524.3L479 521.2L470.5 523L460.6 517.9L453.8 517.7L449 515.2L436.6 517.7L422.2 511.9L420 512.1L418.3 511.4L402.5 514.6L386.7 511.6L385.7 511.8L384.9 511.4L381.6 510.6L369 507.9L358.7 503.4L352.5 501.4L339.9 491.6L337.5 490.7L336.7 490.6L334.6 489.5L310.4 485.5L289.3 479.4L284.6 479.5L253.8 480.6L250.9 481.2L226.9 490.8L202.2 495L197.9 496.9L190.6 497.5L170.2 503.4L151.6 504.9L142.7 506.8L144.5 509.2L158.4 528L172.6 547.7L215.9 610.9L214.4 609L171.7 546.5L157.6 527L143.9 508.4L137.4 499.8L158.8 495.1L163.6 495.3L166.3 494.5L193.9 492L217.2 481.9L219 481.6L221.1 480.8L250.4 476.6L256.3 475.8L284.7 473.9L289.5 474.2L310.4 474L318.4 476.4L325.3 477.5L337.4 484L342.3 485L353.8 489.3L359 490L367.7 492.8L370.4 494L375.1 495L386.6 502.7L393.8 500.7L403.8 502.2L414.5 500.3L420.8 503.3L426.5 501L437.9 504.6L451.1 502.4L455.1 504.2L458.8 503.1L471.9 508.2L487.4 505.7L489.4 506.3L492 505L506.5 507.7L520.2 503.5L524 504L532.7 497.7L542 496.3L548.6 494.3L559.4 496.1L571.5 486.4L575.9 483.8L577.7 485L580.4 483L590.6 487.9L594.5 490.9L597.3 488.5L608.4 483.2L612.2 486.6L618 482.3L611.9 489.9Z"/>
<path fill="#21918c" d="M618 482.3L612.2 486.6L608.4 483.2L597.3 488.5L594.5 490.9L590.6 487.9L580.4 483L577.7 485L575.9 483.8L571.5 486.4L559.4 496.1L548.6 494.3L542 496.3L532.7 497.7L524 504L520.2 503.5L506.5 507.7L492 505L489.4 506.3L487.4 505.7L471.9 508.2L458.8 503.1L455.1 504.2L451.1 502.4L437.9 504.6L426.5 501L420.8 503.3L414.5 500.3L403.8 502.2L393.8 500.7L386.6 502.7L375.1 495L370.4 494L367.7 492.8L359 490L353.8 489.3L342.3 485L337.4 484L325.3 477.5L318.4 476.4L310.4 474L289.5 474.2L284.7 473.9L256.3 475.8L250.4 476.6L221.1 480.8L219 481.6L217.2 481.9L193.9 492L166.3 494.5L163.6 495.3L158.8 495.1L137.4 499.8L143.9 508.4L157.6 527L171.7 546.5L214.4 609L212.4 606.3L170.3 544.7L156.5 525.6L143 507.3L129.9 490L159.9 490.8L176.4 486.1L188.2 485L199.2 480.3L216.1 478.2L223.9 475.5L246.7 472.3L261.8 470.3L280.5 469L293.4 469.8L319 469.6L323.3 470.7L332.3 471.5L338.4 474.8L349.2 476.9L354.9 479.1L364.6 480.4L371.3 485.6L374.7 484.4L383.4 488.1L387.8 491.1L403 486.7L405.2 486.2L405.4 486.4L405.6 486.3L406.2 486.5L421.8 493.8L436.9 487.9L439.4 488.6L442.2 488.2L456 494.3L469 490.3L473.4 492.1L478.7 491.2L490.4 494.9L505.7 487.4L508.3 487.8L510.7 487.1L525.4 489.1L532.1 484.1L540.4 479.6L543.4 480.9L549.6 475.8L561 477.4L569.8 472.4L578.2 478.2L592 468.1L596.3 470.2L600.5 468.2L612.9 479.2L631.3 465.3L631.4 465.3L631.4 465.3L631.5 465.3L631.4 465.3Z"/>
<path fill="#1e9c89" d="M631.5 465.3L631.4 465.3L631.4 465.3L631.3 465.3L612.9 479.2L600.5 468.2L596.3 470.2L592 468.1L578.2 478.2L569.8 472.4L561 477.4L549.6 475.8L543.4 480.9L540.4 479.6L532.1 484.1L525.4 489.1L510.7 487.1L508.3 487.8L505.7 487.4L490.4 494.9L478.7 491.2L473.4 492.1L469 490.3L456 494.3L442.2 488.2L439.4 488.6L436.9 487.9L421.8 493.8L406.2 486.5L405.6 486.3L405.4 486.4L405.2 486.2L403 486.7L387.8 491.1L383.4 488.1L374.7 484.4L371.3 485.6L364.6 480.4L354.9 479.1L349.2 476.9L338.4 474.8L332.3 471.5L323.3 470.7L319 469.6L293.4 469.8L280.5 469L261.8 470.3L246.7 472.3L223.9 475.5L216.1 478.2L199.2 480.3L188.2 485L176.4 486.1L159.9 490.8L129.9 490L143 507.3L156.5 525.6L170.3 544.7L212.4 606.3L209.6 602.5L168.4 542.2L154.9 523.6L141.7 505.6L128.9 488.7L124.9 483.5L139.8 484L154.7 484.5L172.9 479.3L182.9 478.5L186.9 477.3L212.6 474.1L232.2 467.5L241.5 466.2L269.6 462.5L274.5 462.2L298.9 463.5L314 463.4L326.6 466.8L339.1 467.9L355.1 467.6L356.1 468.2L356.7 467.9L358.4 468.5L372 479L381.8 475.6L389.1 478.7L398.5 476.6L405.9 481.1L411.7 478.3L422.9 481.8L435.7 478L440.2 480.2L445.2 477.3L457.3 481.3L470.8 478L474.6 480L479.2 477.2L491.8 480L503.9 475.5L509.2 477.5L517.9 471.2L526.9 472.2L534.1 468.2L544.1 472.5L561.1 458.7L562.2 458.1L562.6 458.4L563.1 458L565.2 459L579.1 468.7L589.5 461L595.3 458.5L597.1 460.2L599.4 458.5L607 462.7L613.8 468.7L619.9 464.1L628.8 460.2L631.6 463.3L634.7 461.2Z"/>
<path fill="#22a785" d="M634.7 461.2L631.6 463.3L628.8 460.2L619.9 464.1L613.8 468.7L607 462.7L599.4 458.5L597.1 460.2L595.3 458.5L589.5 461L579.1 468.7L565.2 459L563.1 458L562.6 458.4L562.2 458.1L561.1 458.7L544.1 472.5L534.1 468.2L526.9 472.2L517.9 471.2L509.2 477.5L503.9 475.5L491.8 480L479.2 477.2L474.6 480L470.8 478L457.3 481.3L445.2 477.3L440.2 480.2L435.7 478L422.9 481.8L411.7 478.3L405.9 481.1L398.5 476.6L389.1 478.7L381.8 475.6L372 479L358.4 468.5L356.7 467.9L356.1 468.2L355.1 467.6L339.1 467.9L326.6 466.8L314 463.4L298.9 463.5L274.5 462.2L269.6 462.5L241.5 466.2L232.2 467.5L212.6 474.1L186.9 477.3L182.9 478.5L172.9 479.3L154.7 484.5L139.8 484L124.9 483.5L128.9 488.7L141.7 505.6L154.9 523.6L168.4 542.2L209.6 602.5L205.5 597L165.7 538.8L152.7 520.7L139.9 503.3L127.5 487L117.8 474.3L134.3 474.9L148.7 477.1L151.1 476.8L179.7 474.7L195.7 469.9L207.8 468.4L225.4 462.5L237.5 461.6L238.4 461.5L271.8 459.1L273.1 458.9L306.3 454.7L306.7 454.7L306.8 454.7L331.2 461.3L339.8 462L350.7 461.8L356.4 465.5L360.2 463.6L369.8 467.2L373 469.7L385 465.5L390 464.3L390.5 464.7L390.9 464.4L392.1 464.8L406.7 473.5L420.5 467.1L424.2 468.3L428.5 467L440.9 473L454.7 465.1L458.6 466.4L463.1 465.3L475.3 471.7L490.4 462.5L493.3 463.2L496.1 462.1L510.1 467.5L523.7 457.6L527.2 455.9L528.2 456.6L529.8 455.4L538.6 457.9L545.1 460.7L548.2 458.3L559.1 452.4L562.9 455.5L568.1 451.6L580.1 457.1L591.8 451.9L597.4 457.2L604.4 451.9L614.7 457.7L625.2 453.2L631.8 460.4L639.4 455.4Z"/>
<path fill="#2db27d" d="M639.4 455.4L631.8 460.4L625.2 453.2L614.7 457.7L604.4 451.9L597.4 457.2L591.8 451.9L580.1 457.1L568.1 451.6L562.9 455.5L559.1 452.4L548.2 458.3L545.1 460.7L538.6 457.9L529.8 455.4L528.2 456.6L527.2 455.9L523.7 457.6L510.1 467.5L496.1 462.1L493.3 463.2L490.4 462.5L475.3 471.7L463.1 465.3L458.6 466.4L454.7 465.1L440.9 473L428.5 467L424.2 468.3L420.5 467.1L406.7 473.5L392.1 464.8L390.9 464.4L390.5 464.7L390 464.3L385 465.5L373 469.7L369.8 467.2L360.2 463.6L356.4 465.5L350.7 461.8L339.8 462L331.2 461.3L306.8 454.7L306.7 454.7L306.3 454.7L273.1 458.9L271.8 459.1L238.4 461.5L237.5 461.6L225.4 462.5L207.8 468.4L195.7 469.9L179.7 474.7L151.1 476.8L148.7 477.1L134.3 474.9L117.8 474.3L127.5 487L139.9 503.3L152.7 520.7L165.7 538.8L205.5 597L199.9 589.4L161.9 533.9L149.5 516.6L137.3 500.1L125.5 484.5L114 469.6L113.1 468.3L119.4 468.3L144.8 472.2L158.7 470.5L175.2 469.3L196.1 463L203.1 462.9L204 462.8L236.5 460.4L239.8 460.1L270.7 457.9L274.4 457.3L305.7 453.4L307.9 453.3L329.5 451.2L337.8 453.4L340.7 453.7L344.4 453.6L356.8 461.7L365 457.6L373.9 460.9L385.5 458.1L390.8 462L395.4 458.6L407.7 463L422.5 457.9L425.1 459.7L427.7 457.7L437.1 460.6L441.8 463L447 460L457.1 455.7L459.5 457.3L462.5 454.9L474 458.7L476.4 459.9L478.7 458.6L490.9 453.4L494 455.6L498.5 451.6L511.2 454.8L523.1 448.8L528.6 452.6L536.6 446.3L546.2 449L554.7 444.4L563.2 451.3L575.1 442.5L581.1 445.2L587 442.6L597.7 452.9L611.5 442.6L615.7 445L620.1 443.2L632.2 456.3L645.9 447.2Z"/>
<path fill="#3fbc73" d="M645.9 447.2L632.2 456.3L620.1 443.2L615.7 445L611.5 442.6L597.7 452.9L587 442.6L581.1 445.2L575.1 442.5L563.2 451.3L554.7 444.4L546.2 449L536.6 446.3L528.6 452.6L523.1 448.8L511.2 454.8L498.5 451.6L494 455.6L490.9 453.4L478.7 458.6L476.4 459.9L474 458.7L462.5 454.9L459.5 457.3L457.1 455.7L447 460L441.8 463L437.1 460.6L427.7 457.7L425.1 459.7L422.5 457.9L407.7 463L395.4 458.6L390.8 462L385.5 458.1L373.9 460.9L365 457.6L356.8 461.7L344.4 453.6L340.7 453.7L337.8 453.4L329.5 451.2L307.9 453.3L305.7 453.4L274.4 457.3L270.7 457.9L239.8 460.1L236.5 460.4L204 462.8L203.1 462.9L196.1 463L175.2 469.3L158.7 470.5L144.8 472.2L119.4 468.3L113.1 468.3L114 469.6L125.5 484.5L137.3 500.1L149.5 516.6L161.9 533.9L199.9 589.4L191.8 578.5L156.6 526.9L145 510.9L133.6 495.5L122.7 481L112 467.1L109.2 463.5L127.6 463.3L139.3 465.1L167.5 461.9L169 461.9L169.2 461.9L201.8 461.3L206.1 460.9L235 458.7L241.7 458.1L269.3 456.1L276.3 455.1L304.1 451.6L309.5 451.3L340.3 448.4L342.1 448.3L345.8 448.8L357.4 456.3L371.8 449.1L375 450.3L379.1 449.2L391.2 458.1L401.6 450.5L408.7 453L417.1 450.1L425.4 456L433.8 449.4L442.8 452.3L452.5 448.1L459.8 453.4L469.4 445.8L477.4 448.5L485.8 444.9L494.4 451.1L507.1 439.9L512.4 441.2L517.4 438.7L529.1 446.9L546.3 433.3L547.5 433.7L548.6 433.1L563.7 445.4L580.1 433.2L581.6 432.5L582.6 432.6L584.2 433.5L598.3 446.9L613.1 435.8L615.8 434.7L617.4 434.9L619.8 436.5L632.7 450.6L647.8 440.5L650.3 439.7L651.7 440L650.9 441Z"/>
<path fill="#56c667" d="M651.7 440L650.3 439.7L647.8 440.5L632.7 450.6L619.8 436.5L617.4 434.9L615.8 434.7L613.1 435.8L598.3 446.9L584.2 433.5L582.6 432.6L581.6 432.5L580.1 433.2L563.7 445.4L548.6 433.1L547.5 433.7L546.3 433.3L529.1 446.9L517.4 438.7L512.4 441.2L507.1 439.9L494.4 451.1L485.8 444.9L477.4 448.5L469.4 445.8L459.8 453.4L452.5 448.1L442.8 452.3L433.8 449.4L425.4 456L417.1 450.1L408.7 453L401.6 450.5L391.2 458.1L379.1 449.2L375 450.3L371.8 449.1L357.4 456.3L345.8 448.8L342.1 448.3L340.3 448.4L309.5 451.3L304.1 451.6L276.3 455.1L269.3 456.1L241.7 458.1L235 458.7L206.1 460.9L201.8 461.3L169.2 461.9L169 461.9L167.5 461.9L139.3 465.1L127.6 463.3L109.2 463.5L112 467.1L122.7 481L133.6 495.5L145 510.9L156.6 526.9L191.8 578.5L180.5 563.2L149 517.1L138.6 502.8L128.5 489.1L118.7 476.1L109.2 463.7L103.8 456.7L121.6 456.5L133.8 458L135.8 458.3L167 459.6L172 459.6L199.9 459L209.1 458.1L232.9 456.4L244.5 455.3L267.2 453.7L279.1 452L302 449.1L311.8 448.6L338.4 446.1L344.1 445.7L355.9 447.3L358.2 448.8L363.3 446.2L374.5 443L376.8 442.8L379.6 443.8L391.7 452.8L409.5 439.7L409.9 439.5L410.1 439.5L410.4 439.6L425.9 450.6L442.5 437.8L444.1 438.3L445.9 437.5L460.4 447.8L478.7 433.3L478.8 433.2L478.9 433.2L479 433.3L494.9 444.7L509.8 431.6L512.5 430.1L514.6 429.5L519.1 431.4L529.8 438.9L539.2 431.5L545.8 428.2L550.2 428L558.2 432L564.5 437.1L570.4 432.7L579.5 428.6L585.4 429L594.7 434.3L599 438.4L603.5 435L613.7 430.8L620 431.7L629.2 437.9L633.4 442.4L638.3 439.2L648.3 435.8L654 437.1Z"/>
<path fill="#73d056" d="M654 437.1L648.3 435.8L638.3 439.2L633.4 442.4L629.2 437.9L620 431.7L613.7 430.8L603.5 435L599 438.4L594.7 434.3L585.4 429L579.5 428.6L570.4 432.7L564.5 437.1L558.2 432L550.2 428L545.8 428.2L539.2 431.5L529.8 438.9L519.1 431.4L514.6 429.5L512.5 430.1L509.8 431.6L494.9 444.7L479 433.3L478.9 433.2L478.8 433.2L478.7 433.3L460.4 447.8L445.9 437.5L444.1 438.3L442.5 437.8L425.9 450.6L410.4 439.6L410.1 439.5L409.9 439.5L409.5 439.7L391.7 452.8L379.6 443.8L376.8 442.8L374.5 443L363.3 446.2L358.2 448.8L355.9 447.3L344.1 445.7L338.4 446.1L311.8 448.6L302 449.1L279.1 452L267.2 453.7L244.5 455.3L232.9 456.4L209.1 458.1L199.9 459L172 459.6L167 459.6L135.8 458.3L133.8 458L121.6 456.5L103.8 456.7L109.2 463.7L118.7 476.1L128.5 489.1L138.6 502.8L149 517.1L180.5 563.2L164.5 541.6L138.3 503.3L129.7 491.3L121.3 479.9L113.1 469.2L105.2 458.8L98.8 450.5L102.8 450.6L130.8 454.1L139.9 455.2L164.2 456.2L176 456.2L197.2 455.7L213.3 454.3L229.9 453L248.4 451.4L264.3 450.3L282.9 447.7L298.9 445.6L315 444.7L335.7 442.7L347 442.1L358.7 443.6L372.1 439.8L379.5 439.2L388.9 442.5L392.5 445.1L397.7 441.3L407.7 436.4L412.8 435.9L419.9 438.3L426.7 443.1L435.4 436.3L442.6 432.5L446.8 432L453.6 434.6L461.1 440L468.8 433.8L476.7 429.8L482 429L491.4 432.6L495.7 435.7L499.8 432.1L510.2 426.4L518.6 424.1L530.7 429.1L542.9 423L554.3 422.6L565.2 428.1L576.6 423L589.3 423.9L599.7 429.9L610.8 425.3L623.6 427.1L634.1 434.1L645.5 430.3L657.4 432.9Z"/>
<path fill="#90d743" d="M657.4 432.9L645.5 430.3L634.1 434.1L623.6 427.1L610.8 425.3L599.7 429.9L589.3 423.9L576.6 423L565.2 428.1L554.3 422.6L542.9 423L530.7 429.1L518.6 424.1L510.2 426.4L499.8 432.1L495.7 435.7L491.4 432.6L482 429L476.7 429.8L468.8 433.8L461.1 440L453.6 434.6L446.8 432L442.6 432.5L435.4 436.3L426.7 443.1L419.9 438.3L412.8 435.9L407.7 436.4L397.7 441.3L392.5 445.1L388.9 442.5L379.5 439.2L372.1 439.8L358.7 443.6L347 442.1L335.7 442.7L315 444.7L298.9 445.6L282.9 447.7L264.3 450.3L248.4 451.4L229.9 453L213.3 454.3L197.2 455.7L176 456.2L164.2 456.2L139.9 455.2L130.8 454.1L102.8 450.6L98.8 450.5L105.2 458.8L113.1 469.2L121.3 479.9L129.7 491.3L138.3 503.3L164.5 541.6L141.9 511.1L123.2 483.7L117 475.2L111 467L105.2 459.3L99.5 452L95 446L109.5 446.4L126.4 448.5L145.7 450.9L160.1 451.5L181.7 451.4L193.4 451.2L219.2 448.8L225.7 448.3L253.9 445.9L260.1 445.4L288.4 441.5L294.6 440.7L319.6 439.2L331.8 438L351.1 436.9L359.3 438L368.7 435.4L383.4 434.1L393.2 437.6L404.5 432L416.6 430.7L427.5 434.5L439.7 428.1L450.7 426.7L461.9 431.1L473.8 425.1L486.3 423L496.5 426.9L507.1 421.1L524.3 416.3L531.5 419.3L538.8 415.7L560 414.9L566.1 418L572.4 415.1L594.7 416.7L600.5 420L606.7 417.5L628.8 420.6L634.9 424.8L641.5 422.5L662.1 427.1Z"/>
<path fill="#b0dd2f" d="M324.5 431.6L326.1 431.5L326.4 431.4L356.9 429.7L360.1 430.1L363.9 429.1L389 426.9L394.1 428.7L400.1 425.8L421.9 423.4L428.3 425.6L435.5 421.9L456.3 419.3L462.8 421.8L469.6 418.4L492.5 414.6L497.5 416.5L502.6 413.6L532.3 405.4L532.7 405.5L533.1 405.4L543.6 405L567.2 405.3L601.6 407.7L636 411.6L636.7 411.7L668.8 418.8L662.1 427.1L641.5 422.5L634.9 424.8L628.8 420.6L606.7 417.5L600.5 420L594.7 416.7L572.4 415.1L566.1 418L560 414.9L538.8 415.7L531.5 419.3L524.3 416.3L507.1 421.1L496.5 426.9L486.3 423L473.8 425.1L461.9 431.1L450.7 426.7L439.7 428.1L427.5 434.5L416.6 430.7L404.5 432L393.2 437.6L383.4 434.1L368.7 435.4L359.3 438L351.1 436.9L331.8 438L319.6 439.2L294.6 440.7L288.4 441.5L260.1 445.4L253.9 445.9L225.7 448.3L219.2 448.8L193.4 451.2L181.7 451.4L160.1 451.5L145.7 450.9L126.4 448.5L109.5 446.4L95 446L99.5 452L105.2 459.3L111 467L117 475.2L123.2 483.7L141.9 511.1L110 468L101.8 456.1L99.1 452.4L96.5 448.8L94 445.5L91.5 442.3L89.6 439.7L119 440.5L120.4 440.7L153.9 444.8L154.4 444.8L162.3 444.8L188.6 445.5L223 445.3L257.5 442.3L291.9 437.5Z"/>
<path fill="#d0e11c" d="M162.3 444.8L154.4 444.8L153.9 444.8L120.4 440.7L119 440.5L89.6 439.7L91.5 442.3L94 445.5L96.5 448.8L99.1 452.4L101.8 456.1L110 468L85.4 434.8L119.8 440L154.2 444.5ZM429.5 413.1L463.9 409.2L498.3 406.5L532.8 404.8L543.6 405L533.1 405.4L532.7 405.5L532.3 405.4L502.6 413.6L497.5 416.5L492.5 414.6L469.6 418.4L462.8 421.8L456.3 419.3L435.5 421.9L428.3 425.6L421.9 423.4L400.1 425.8L394.1 428.7L389 426.9L363.9 429.1L360.1 430.1L356.9 429.7L326.4 431.4L326.1 431.5L324.5 431.6L326.3 431.2L360.7 424.9L395.1 418.9ZM668.8 418.8L636.7 411.7L670.4 416.8Z"/>
<path fill="#efe51c" d="M429.5 413.1"/>
</g>
<polygon fill="#fff" points="85.4,434.8 149.1,444.4 213,446.2 273.3,440.9 380,421.4 443.3,410.8 520.2,404.8 560.5,404.8 619,409 670.4,416.8 670.5,399.5 85.5,399.5"/>
<g shape-rendering="crispEdges">
<rect x="679.5" y="618.72" width="27" height="11.00" fill="#460a5d"/>
<rect x="679.5" y="607.72" width="27" height="11.00" fill="#481b6d"/>
<rect x="679.5" y="596.72" width="27" height="11.00" fill="#472a7a"/>
<rect x="679.5" y="585.72" width="27" height="11.00" fill="#443983"/>
<rect x="679.5" y="574.72" width="27" height="11.00" fill="#3f4788"/>
<rect x="679.5" y="563.72" width="27" height="11.00" fill="#39558c"/>
<rect x="679.5" y="552.72" width="27" height="11.00" fill="#33628d"/>
<rect x="679.5" y="541.72" width="27" height="11.00" fill="#2e6e8e"/>
<rect x="679.5" y="530.72" width="27" height="11.00" fill="#29798e"/>
<rect x="679.5" y="519.72" width="27" height="11.00" fill="#25848e"/>
<rect x="679.5" y="508.72" width="27" height="11.00" fill="#21918c"/>
<rect x="679.5" y="497.72" width="27" height="11.00" fill="#1e9c89"/>
<rect x="679.5" y="486.72" width="27" height="11.00" fill="#22a785"/>
<rect x="679.5" y="475.72" width="27" height="11.00" fill="#2db27d"/>
<rect x="679.5" y="464.72" width="27" height="11.00" fill="#3fbc73"/>
<rect x="679.5" y="453.72" width="27" height="11.00" fill="#56c667"/>
<rect x="679.5" y="442.72" width="27" height="11.00" fill="#73d056"/>
<rect x="679.5" y="431.72" width="27" height="11.00" fill="#90d743"/>
<rect x="679.5" y="420.72" width="27" height="11.00" fill="#b0dd2f"/>
<rect x="679.5" y="409.72" width="27" height="11.00" fill="#d0e11c"/>
<rect x="679.5" y="398.72" width="27" height="11.00" fill="#efe51c"/>
</g>
<g fill="none" stroke="#000" stroke-width="1.11">
<rect x="85.5" y="399.5" width="585" height="231"/>
<rect x="679.5" y="399.5" width="27" height="231"/>
<path d="M112.5 630.5 v4.86M198.5 630.5 v4.86M284.5 630.5 v4.86M371.5 630.5 v4.86M457.5 630.5 v4.86M543.5 630.5 v4.86M630.5 630.5 v4.86M85.5 586.5 h-4.86M85.5 532.5 h-4.86M85.5 479.5 h-4.86M85.5 425.5 h-4.86M706.5 629.5 h4.86M706.5 592.5 h4.86M706.5 555.5 h4.86M706.5 518.5 h4.86M706.5 481.5 h4.86M706.5 443.5 h4.86M706.5 406.5 h4.86"/>
</g>
<text x="86.53" y="655.06" font-size="19.44" textLength="51.25" lengthAdjust="spacingAndGlyphs">−300</text>
<text x="172.84" y="655.06" font-size="19.44" textLength="51.25" lengthAdjust="spacingAndGlyphs">−200</text>
<text x="259.15" y="655.06" font-size="19.44" textLength="51.25" lengthAdjust="spacingAndGlyphs">−100</text>
<text x="365.96" y="655.06" font-size="19.44" textLength="10.25" lengthAdjust="spacingAndGlyphs">0</text>
<text x="439.96" y="655.06" font-size="19.44" textLength="34.88" lengthAdjust="spacingAndGlyphs">100</text>
<text x="526.26" y="655.06" font-size="19.44" textLength="34.88" lengthAdjust="spacingAndGlyphs">200</text>
<text x="612.57" y="655.06" font-size="19.44" textLength="34.88" lengthAdjust="spacingAndGlyphs">300</text>
<text x="35.56" y="593.91" font-size="19.44" textLength="39.12" lengthAdjust="spacingAndGlyphs">−50</text>
<text x="64.43" y="540.21" font-size="19.44" textLength="10.25" lengthAdjust="spacingAndGlyphs">0</text>
<text x="51.93" y="486.52" font-size="19.44" textLength="22.75" lengthAdjust="spacingAndGlyphs">50</text>
<text x="39.81" y="432.82" font-size="19.44" textLength="34.88" lengthAdjust="spacingAndGlyphs">100</text>
<text x="717.13" y="636.69" font-size="19.44" textLength="85.12" lengthAdjust="spacingAndGlyphs">1.84e-04</text>
<text x="717.13" y="599.65" font-size="19.44" textLength="85.12" lengthAdjust="spacingAndGlyphs">5.90e-04</text>
<text x="717.13" y="562.60" font-size="19.44" textLength="85.12" lengthAdjust="spacingAndGlyphs">1.89e-03</text>
<text x="717.13" y="525.55" font-size="19.44" textLength="85.12" lengthAdjust="spacingAndGlyphs">6.05e-03</text>
<text x="717.13" y="488.51" font-size="19.44" textLength="85.12" lengthAdjust="spacingAndGlyphs">1.93e-02</text>
<text x="717.13" y="451.46" font-size="19.44" textLength="85.12" lengthAdjust="spacingAndGlyphs">6.19e-02</text>
<text x="717.13" y="414.41" font-size="19.44" textLength="85.12" lengthAdjust="spacingAndGlyphs">1.98e-01</text>
<text x="275.59" y="391.00" font-size="23.33" textLength="204.62" lengthAdjust="spacingAndGlyphs">Predicted Voltage</text>
<text x="295.65" y="679.61" font-size="19.44" textLength="164.50" lengthAdjust="spacingAndGlyphs">Line position (m)</text>
<text transform="translate(24.00 619.83) rotate(-90)" font-size="19.44" textLength="207.00" lengthAdjust="spacingAndGlyphs">Pseudo-elevation (m)</text>
<text transform="translate(831.14 533.52) rotate(-90)" font-size="19.44" textLength="33.38" lengthAdjust="spacingAndGlyphs">V/A</text>
<g shape-rendering="crispEdges">
<path fill="#af0926" d="M288.9 919.9L289.4 920.7L288.7 921.4L288.6 921.5L287.2 922.2L287.3 920.7L287.4 920L288.4 919.4Z"/>
<path fill="#c41e27" d="M288.4 919.4L287.4 920L287.3 920.7L287.2 922.2L288.6 921.5L288.7 921.4L289.4 920.7L288.9 919.9ZM290.2 918.1L291.5 920.4L289.5 922.5L289.2 923L284.9 925L285.4 920.5L285.6 918.5L288.7 916.5ZM473 910.2L473.9 909.1L480.5 902.5L481.9 911.9L476.8 912.3L474.3 918.5Z"/>
<path fill="#d93429" d="M288.7 916.5L285.6 918.5L285.4 920.5L284.9 925L289.2 923L289.5 922.5L291.5 920.4L290.2 918.1ZM474.3 918.5L476.8 912.3L481.9 911.9L480.5 902.5L473.9 909.1L473 910.2ZM291.5 916.3L293.6 920.2L290.2 923.7L289.8 924.5L282.6 927.8L283.5 920.3L283.8 916.9L289 913.7ZM470.7 910.1L472.5 907.9L485.8 894.7L488.6 913.6L478.5 914.3L473.4 926.8Z"/>
<path fill="#e54e35" d="M289 913.7L283.8 916.9L283.5 920.3L282.6 927.8L289.8 924.5L290.2 923.7L293.6 920.2L291.5 916.3ZM473.4 926.8L478.5 914.3L488.6 913.6L485.8 894.7L472.5 907.9L470.7 910.1ZM292.7 914.5L295.8 920L291 924.8L290.4 925.9L280.3 930.5L281.5 920L282.1 915.3L289.3 910.9ZM198.7 907.6L197 908L196.7 907.9L196.2 907.5L195.7 906.9L196.6 905.9L197.2 906L197.4 906ZM468.5 910L471.2 906.6L487.3 890.7L487.7 889.6L490.9 888.3L492.3 894.6L495.2 915.2L480.1 916.2L472.5 935ZM515.6 957.2L515.8 955.3L517.1 952L517.8 955.8L515.9 957.8Z"/>
<path fill="#f36b42" d="M289.3 910.9L282.1 915.3L281.5 920L280.3 930.5L290.4 925.9L291 924.8L295.8 920L292.7 914.5ZM197.4 906L197.2 906L196.6 905.9L195.7 906.9L196.2 907.5L196.7 907.9L197 908L198.7 907.6ZM472.5 935L480.1 916.2L495.2 915.2L492.3 894.6L490.9 888.3L487.7 889.6L487.3 890.7L471.2 906.6L468.5 910ZM515.9 957.8L517.8 955.8L517.1 952L515.8 955.3L515.6 957.2ZM294 912.7L297.9 919.7L291.8 926L291.1 927.4L278 933.3L279.6 919.8L280.3 913.8L289.6 908ZM376.2 850.6L369.1 862.1L368.2 863.5L362.7 869.5L364.8 861.9L370.4 852.9L372.3 846.1L373.5 842.4L376.7 848.1L376.9 849.3ZM145.5 865.5L148.4 866L145.5 867.7L144.8 872.4L143.8 865.7L144.6 865.4L145 865.6ZM469.1 936.3L469.9 932.9L466.3 909.8L469.9 905.4L484.9 890.6L486 887.1L495.6 883.5L499.8 902.1L501.9 916.9L481.7 918.2L474.9 935L472.5 949.3ZM202.2 909.7L197.1 910.7L196.2 910.5L194.7 909.2L193.1 907.4L195.7 904.4L197.7 904.7L198.1 904.8ZM513.1 958.9L513.7 953.2L517.5 943.1L519.6 954.6L513.9 960.5Z"/>
<path fill="#f8864f" d="M289.6 908L280.3 913.8L279.6 919.8L278 933.3L291.1 927.4L291.8 926L297.9 919.7L294 912.7ZM376.9 849.3L376.7 848.1L373.5 842.4L372.3 846.1L370.3 852.9L364.8 861.9L362.7 869.5L368.2 863.5L369.1 862.1L376.2 850.6ZM145 865.6L144.6 865.4L143.8 865.7L144.8 872.4L145.5 867.7L148.4 866L145.5 865.5ZM472.5 949.3L474.9 935L481.7 918.2L501.9 916.9L499.8 902.1L495.6 883.5L486 887.1L484.9 890.6L469.9 905.4L466.3 909.8L469.9 932.9L469.1 936.3ZM198.1 904.8L197.7 904.7L195.7 904.4L193.1 907.4L194.7 909.2L196.2 910.5L197.1 910.7L202.2 909.7ZM513.9 960.5L519.6 954.6L517.5 943.1L513.7 953.2L513.1 958.9ZM295.3 910.9L300.1 919.5L292.6 927.1L291.7 928.8L275.7 936.1L277.7 919.6L278.5 912.2L289.8 905.2ZM377.7 852.3L371.2 862.7L368.6 866.9L352 885L358.4 862.1L360.2 859.1L366 838.8L369.8 827.7L379.2 844.6L379.8 848.2ZM147.1 864.2L155.7 865.6L147.1 870.8L146 878.7L145.7 879.4L144 877.2L142.1 864.8L144.3 863.7L145.5 864.5ZM470.5 956L465.7 937.6L467.4 930.8L464 909.7L468.6 904.2L482.4 890.5L484.4 884.6L496.4 880.1L499 864L499.7 879.8L500.3 881L503.1 891L507.3 909.7L508.6 918.5L483.4 920.2L477.4 935L473.9 955.1L473.5 957.4L469.6 961.1ZM205.6 911.8L197.2 913.5L195.6 913.2L193.1 911L190.6 908L194.9 903L198.1 903.5L198.8 903.6ZM463.9 798L463.9 799L459.3 816.6L458.7 818L459.5 823.8L456.2 839.8L441.3 825.3L455.3 817L460.5 797.3L461.3 796.1L462.1 795.5L463.5 795.8L463.8 796ZM510.6 960.6L511.6 951L518 934.3L521.4 953.5L511.9 963.2Z"/>
<path fill="#fba35c" d="M289.8 905.2L278.5 912.2L277.7 919.6L275.7 936.1L291.7 928.8L292.6 927.1L300.1 919.5L295.3 910.9ZM379.8 848.2L379.2 844.6L369.8 827.7L366 838.8L360.2 859.1L358.4 862.1L352 885L368.6 866.9L371.2 862.7L377.7 852.3ZM145.5 864.5L144.3 863.7L142.1 864.8L144 877.2L145.7 879.4L146 878.7L147.1 870.8L155.7 865.6L147.1 864.2ZM469.6 961.1L473.5 957.4L473.9 955.1L477.4 935L483.4 920.2L508.6 918.5L507.3 909.7L503.1 891L500.3 881L499.7 879.8L499 864L496.4 880.1L484.4 884.6L482.4 890.5L468.6 904.2L464 909.7L467.4 930.8L465.7 937.6L470.5 956ZM198.8 903.6L198.1 903.5L194.9 903L190.6 908L193.1 911L195.6 913.2L197.2 913.5L205.6 911.8ZM463.8 796L463.5 795.8L462.1 795.5L461.3 796.1L460.5 797.3L455.3 817L441.3 825.3L456.2 839.8L459.5 823.8L458.7 818L459.3 816.6L463.9 799L463.9 798ZM511.9 963.2L521.4 953.5L518 934.3L511.6 951L510.6 960.6ZM296.5 909.1L302.2 919.3L293.4 928.3L292.3 930.3L273.4 938.9L275.7 919.4L276.7 910.7L290.1 902.3ZM379.2 854L373.4 863.3L369.1 870.3L353.9 886.8L352.1 900.4L353 912.8L352.7 914.1L347.9 914.4L344.8 908.4L342 898.7L343.1 890.3L347.8 884L348.2 877.6L352.6 861.2L359.8 831.5L359.8 831.5L366 813L381.8 841.1L382.7 847.2ZM148.6 862.8L163 865.1L148.8 873.9L148 879.1L147 881.2L142 874.5L140.4 863.9L144 862L146 863.3ZM466.6 955.1L462.4 938.9L464.8 928.6L461.8 909.6L467.2 903L480 890.4L482.7 882.1L493.1 878.2L495.4 864.3L489.1 857.1L494.7 841.3L495.3 837.5L499.7 831.3L502 828.5L504.5 829.1L504.2 833L504.1 835.9L503.4 840.4L502.8 861.2L502.5 864L503.1 877.4L504.8 881L513.5 911L514.8 917.2L515.3 920.2L485 922.2L479.8 935L476.8 952.4L475.6 959.5L463.7 970.6ZM390.5 916.6L390.3 914L395 908.6L396.2 914.8L395.1 918.5L391.6 921.5ZM209 913.9L197.2 916.2L195 915.8L191.6 912.7L188 908.5L194 901.5L198.5 902.2L199.5 902.3ZM375.7 785.6L373.3 795.6L369.4 785.6ZM467 799.6L467 802.5L464.6 811.3L462.8 815.6L465.4 832.9L463.4 842.6L458.3 843.3L444 853.5L433 839.8L433 839.8L436.6 824.1L439 820.1L442 818.8L452.7 812.5L456.6 797.5L459 793.8L461.5 792.2L465.7 793L466.5 793.7ZM508 962.3L509.4 948.9L518.4 925.4L523.2 952.3L509.8 966ZM433 839.8L444 853.5L431.6 847.7L430.1 843.5Z"/>
<path fill="#fdbb6d" d="M290.1 902.3L276.7 910.7L275.7 919.4L273.4 938.9L292.3 930.3L293.4 928.3L302.2 919.3L296.5 909.1ZM382.7 847.2L381.8 841.1L366 813L359.8 831.5L359.8 831.5L352.6 861.2L348.2 877.6L347.8 884L343.1 890.3L342 898.7L344.8 908.4L347.9 914.4L352.7 914.1L353 912.8L352.1 900.4L353.9 886.8L369.1 870.3L373.4 863.3L379.2 854ZM146 863.3L144 862L140.4 863.9L142 874.5L147 881.2L148 879.1L148.8 873.9L163 865.1L148.6 862.8ZM463.7 970.6L475.6 959.5L476.8 952.4L479.8 935L485 922.2L515.3 920.2L514.8 917.2L513.5 911L504.8 881L503.1 877.4L502.5 864L502.8 861.2L503.4 840.4L504.1 835.9L504.2 833L504.5 829.1L502 828.5L499.7 831.3L495.3 837.5L494.7 841.3L489.1 857.1L495.4 864.3L493.1 878.2L482.7 882.1L480 890.4L467.2 903L461.8 909.6L464.8 928.6L462.4 938.9L466.6 955.1ZM391.6 921.5L395.1 918.5L396.2 914.8L395 908.6L390.3 914L390.5 916.6ZM199.5 902.3L198.5 902.2L194 901.5L188 908.5L191.6 912.7L195 915.8L197.2 916.2L209 913.9ZM369.4 785.6L373.3 795.6L375.7 785.6ZM466.5 793.7L465.7 793L461.5 792.2L459 793.8L456.6 797.5L452.7 812.5L442 818.8L439 820.1L436.6 824.1L433 839.8L433 839.8L444 853.5L458.3 843.3L463.4 842.6L465.4 832.9L462.8 815.6L464.6 811.3L467 802.5L467 799.6ZM509.8 966L523.2 952.3L518.4 925.4L509.4 948.9L508 962.3ZM430.1 843.5L431.6 847.7L444 853.5L433 839.8ZM168.2 828.8L160.3 826.1L167.3 826.6L167.7 826.3L169.5 825L171.2 825.9L174 831.2L168.6 829ZM303.4 975.8L299.6 976.2L277.5 976.2L286 972.5L271.3 941.6L262.1 939.4L271.5 939.1L273.8 919.2L274.9 909.1L290.4 899.5L297.8 907.2L304.3 919L294.1 929.4L292.9 931.8L274 940.4L290.9 970L295.5 969.6L297.9 970.6ZM380.7 855.6L375.5 864L369.5 873.7L355.9 888.5L354.2 900.8L355 911.9L354.2 916L339.6 916.7L339.6 916.7L334 897.4L334.2 895.6L343.6 883.1L344.3 870.1L347.3 859.1L352.1 839.2L356.5 829.8L361.5 815L361.8 811.3L370.6 800.7L370 798L364.3 786.3L309.7 787.8L374.7 784.4L379.6 784.4L376.7 796.2L374.5 800.1L367.4 812.4L370.7 813.3L384.4 837.6L385.6 846.1ZM150.2 861.5L170.3 864.7L150.4 876.9L150 879.6L148.3 883L140 871.8L138.6 862.9L143.7 860.3L146.5 862.2ZM459.7 971.5L460.1 968.8L460.1 967.7L462.6 954.3L459 940.2L462.3 926.5L459.6 909.5L465.9 901.8L477.6 890.3L481.1 879.6L489.9 876.3L491.8 864.5L479.3 850.2L481.1 844.9L481.3 843.6L494.6 825L501.3 816.4L508.8 818.4L508.1 830.1L507.6 838.7L507 842.2L506.6 858.4L506.1 864L506.6 874.9L509.4 881L519.2 915.3L524.5 909.2L525.9 913.8L519.8 921.2L519.7 921.4L520 923.2L525 951.1L507.8 968.7L505.5 963.9L507.3 946.8L516.7 922.2L486.6 924.1L482.2 935L479.7 949.7L477.7 961.6L467.5 971.1L467 972.6ZM389.1 918.3L388.6 913.1L398 902.2L400.4 914.6L398.3 922.1L391.3 928.1ZM225.4 828.8L220.6 827L223.6 825.1L225.9 821.1L231 818.8L231.5 819.2L234.8 817.8L234.6 821.5L232 822.3L226.2 828.5ZM282.5 806.1L281.4 815.2L272.9 808.2L267.8 804.6L275.3 802.2L281.4 801.4ZM212.5 916L197.3 919L194.5 918.4L190 914.5L185.4 909.1L193.2 900.1L199 901L200.2 901.1ZM470.1 801.2L470 806L470 806L466.9 813.2L471.2 842.1L470.6 845.3L460.4 846.8L448.3 855.4L446.2 857.2L437 858.5L430.8 855.6L426.2 843L428.7 839.8L428.7 836.5L431.8 822.9L436.8 815L442.8 812.3L450.1 808L452.8 797.7L456.7 791.5L460.8 788.8L467.9 790.3L469.2 791.3ZM537.7 830.2L537.9 830.4L540.3 834.3L542.1 838.1L540.6 841.7L540.8 847.4L534.8 842.4L533.2 839L534 833.2L533.7 829.6L537.3 828.8L537.7 828.9ZM581.4 885L581.4 857.7L581.4 849.1L582.4 845.5L581.8 836.7L581.1 835L581.4 813.2L583.7 834.9L584.2 836.8L584.7 845.3L584.7 856Z"/>
<path fill="#fed081" d="M168.6 829L174 831.2L171.2 825.9L169.5 825L167.7 826.3L167.3 826.6L160.3 826.1L168.2 828.8ZM297.9 970.6L295.5 969.6L290.9 970L274 940.4L292.9 931.8L294.1 929.4L304.3 919L297.8 907.2L290.4 899.5L274.9 909.1L273.8 919.2L271.5 939.1L262.1 939.4L271.3 941.6L286 972.5L277.5 976.2L299.6 976.2L303.4 975.8ZM385.6 846.1L384.4 837.6L370.7 813.3L367.4 812.4L374.5 800.1L376.7 796.2L379.6 784.4L374.7 784.4L309.7 787.8L364.3 786.3L370 798L370.6 800.7L361.8 811.3L361.5 815L356.5 829.8L352.1 839.2L347.3 859.1L344.3 870.1L343.6 883.1L334.2 895.6L334 897.4L339.6 916.7L339.6 916.7L354.2 916L355 911.9L354.2 900.8L355.9 888.5L369.5 873.7L375.5 864L380.7 855.6ZM146.5 862.2L143.7 860.3L138.6 862.9L140 871.8L148.3 883L150 879.6L150.4 876.9L170.3 864.7L150.2 861.5ZM467 972.6L467.5 971.1L477.7 961.6L479.7 949.7L482.2 935L486.6 924.1L516.7 922.2L507.3 946.8L505.5 963.9L507.8 968.7L525 951.1L520 923.2L519.7 921.4L519.8 921.2L525.9 913.8L524.5 909.2L519.2 915.3L509.4 881L506.6 874.9L506.1 864L506.6 858.4L507 842.2L507.6 838.7L508.1 830.1L508.8 818.4L501.3 816.4L494.6 825L481.3 843.6L481.1 844.9L479.3 850.2L491.8 864.5L489.9 876.3L481.1 879.6L477.6 890.3L465.9 901.8L459.6 909.5L462.3 926.5L459 940.2L462.6 954.3L460.1 967.7L460.1 968.8L459.7 971.5ZM391.3 928.1L398.3 922.1L400.4 914.6L398 902.2L388.6 913.1L389.1 918.3ZM226.2 828.5L232 822.3L234.6 821.5L234.8 817.8L231.5 819.2L231 818.8L225.9 821.1L223.6 825.1L220.6 827L225.4 828.8ZM281.4 801.4L275.3 802.2L267.8 804.6L272.9 808.2L281.4 815.2L282.5 806.1ZM200.2 901.1L199 901L193.2 900.1L185.4 909.1L190 914.5L194.5 918.4L197.3 919L212.5 916ZM469.2 791.3L467.9 790.3L460.8 788.8L456.7 791.5L452.8 797.7L450.1 808L442.8 812.3L436.8 815L431.8 822.9L428.7 836.5L428.7 839.8L426.2 843L430.8 855.6L437 858.5L446.2 857.2L448.3 855.4L460.4 846.8L470.6 845.3L471.2 842.1L466.9 813.2L470 806L470 806L470.1 801.2ZM537.7 828.9L537.3 828.8L533.7 829.6L534 833.2L533.2 839L534.8 842.4L540.8 847.4L540.6 841.7L542.1 838.1L540.3 834.3L537.9 830.4L537.7 830.2ZM584.7 856L584.7 845.3L584.2 836.8L583.7 834.9L581.4 813.2L581.1 835L581.8 836.7L582.4 845.5L581.4 849.1L581.4 857.7L581.4 885ZM167.1 830.1L143.4 822L164.5 823.7L165.6 822.7L171.1 818.8L176.2 821.5L180.9 830.5L183.2 833L186 848.5L178.6 835L168.3 830.9ZM311.4 978.1L309.3 978.3L265 978.4L282.1 971.1L269.3 944.3L241.8 937.6L269.8 936.7L271.9 918.9L273.1 907.5L290.7 896.7L299 905.4L306.5 918.8L294.9 930.5L293.5 933.2L277.3 940.6L291.8 966L295.8 965.6L300.5 967.7ZM338.1 930.9L336.1 919.6L332.2 917.1L327.7 901.5L328.8 896.8L330.1 894.6L339.4 882.1L340.5 862.7L342 857L344.5 846.9L353.3 828.1L357 817L357.6 809.7L363.9 802.1L362.1 794.1L358.8 787.3L241.3 790.5L381.3 783.2L383.5 783.2L382.2 788.6L375.4 800.4L368.8 811.9L375.3 813.5L386.9 834.1L388.5 845.1L382.2 857.3L377.7 864.6L369.9 877.1L357.8 890.3L356.4 901.2L357.1 911.1L355.6 917.8L342.3 918.5ZM151.8 860.1L173.6 863.6L186 848.5L182 864.5L174.7 865.8L173.4 866.1L152 880L152 880L149.7 884.8L138 869.1L136.9 862L143.4 858.6L147.1 861ZM455.7 972.3L456.6 967L456.6 964.8L458.7 953.4L455.6 941.5L459.7 924.4L457.3 909.4L464.6 900.6L475.1 890.1L479.4 877.2L486.6 874.4L488.2 864.8L474 848.6L462.5 850.3L452.6 857.3L448.4 860.9L430 863.5L430 863.5L422.3 842.5L424.4 839.8L424.5 833.2L427.1 821.7L434.5 809.8L443.5 805.8L447.5 803.5L449 797.9L454.5 789.3L460.2 785.5L470.1 787.5L471.9 788.9L473.2 802.8L473.1 806L471 810.8L475.2 838.7L489.5 818.7L500.6 804.3L500.6 804.3L509.7 809.4L516.2 810.5L512.7 814.7L512 827.2L511.1 841.5L510.8 844L510.5 855.6L509.6 864L510 872.5L513.9 881L520.5 903.9L536.4 885.5L540.4 899.2L522.1 921.7L522 922.1L522.8 927.6L526.8 949.9L505.8 971.5L503 965.6L505.2 944.6L512.9 924.5L488.3 926.1L484.7 935L482.6 947L479.8 963.6L471.3 971.6L470.3 974.6ZM387.6 919.9L386.9 912.1L401 895.8L404.6 914.4L401.4 925.6L390.9 934.6ZM225.4 830.5L215.9 826.8L221.8 823L226.5 815L229.4 813.7L230.9 814.7L240.7 810.6L240.2 821.8L232.4 824.1L227 829.9ZM289 820.4L288.5 825L271.6 810.9L262.8 804.7L258.7 804.2L264.2 803.6L284.4 800.9ZM646.8 805.7L639.2 815L636.1 813L635.8 810.1L638 800.8L645.6 800.2ZM583.8 813.4L585.8 832.8L587.3 838.3L587.8 845.6L587.8 854.8L584.9 879.7L587.4 878.5L577.4 890.2L576.5 887.6L578 884.8L577.8 869L577.8 859.9L577.8 857L580.8 846.3L580.3 838.2L578.2 833L578.4 814.6L578.5 814.1L576.9 811.9L577.8 797.7L584 813.2ZM215.9 918.1L197.4 921.8L193.9 921L188.5 916.2L182.9 909.6L192.3 898.6L199.4 899.7L201 899.9ZM541 828.7L541.6 829.1L543.7 832.4L545.1 835.6L542.3 842.8L542.7 854.2L530.6 844.2L529.4 841.7L530 837.6L529 826.8L539.9 824.5L541.1 824.8Z"/>
<path fill="#fee496" d="M573.4 767.7L573.1 770.4L578.2 781.8L578.1 788.9L577.9 791.5L586.5 813.2L586.2 813.5L588 830.7L590.4 839.9L590.8 846L590.8 853.6L588.4 874.3L593.5 872.1L573.5 895.4L571.7 890.3L574.6 884.6L574.3 863.9L575.3 861L575.4 860.8L579.3 847.1L578.8 839.6L575.2 831L575.4 815.9L575.6 815L572.4 810.6L573.6 792L573.4 791.4L570.3 791.1L557.2 781.3L552.5 769.7L552.8 769.3L553.6 766.9L564 767.1ZM168.3 830.9L178.6 835L186 848.5L183.2 833L180.9 830.5L176.2 821.5L171.1 818.8L165.6 822.7L164.5 823.7L143.4 822L167.1 830.1ZM300.5 967.7L295.8 965.6L291.8 966L277.3 940.6L293.5 933.2L294.9 930.5L306.5 918.8L299 905.4L290.7 896.7L273.1 907.5L271.9 918.9L269.8 936.7L241.8 937.6L269.3 944.3L282.1 971.1L265 978.4L309.3 978.3L311.4 978.1ZM342.3 918.5L355.6 917.8L357.1 911.1L356.4 901.2L357.8 890.3L369.9 877.1L377.7 864.6L382.2 857.3L388.5 845.1L386.9 834.1L375.3 813.5L368.8 811.9L375.4 800.4L382.2 788.6L383.5 783.2L381.3 783.2L241.3 790.5L358.8 787.3L362.1 794.1L363.9 802.1L357.6 809.7L357 817L353.3 828.1L344.5 846.9L342 857L340.5 862.7L339.4 882.1L330.1 894.6L328.8 896.8L327.7 901.5L332.2 917.1L336.1 919.6L338.1 930.9ZM147.1 861L143.4 858.6L136.9 862L138 869.1L149.7 884.8L152 880L152 880L152 880L173.4 866.1L174.7 865.8L182 864.5L186 848.5L173.6 863.6L151.8 860.1ZM470.3 974.6L471.3 971.6L479.8 963.6L482.6 947L484.7 935L488.3 926.1L512.9 924.5L505.2 944.6L503 965.6L505.8 971.5L526.8 949.9L522.8 927.6L522 922.1L522.1 921.7L540.4 899.2L536.4 885.5L520.5 903.9L513.9 881L510 872.5L509.6 864L510.5 855.6L510.8 844L511.1 841.5L512 827.2L512.7 814.7L516.2 810.5L509.7 809.4L500.6 804.3L500.6 804.3L489.5 818.7L475.2 838.7L471 810.8L473.1 806L473.2 802.8L471.9 788.9L470.1 787.5L460.2 785.5L454.5 789.3L449 797.9L447.5 803.5L443.5 805.8L434.5 809.8L427.1 821.7L424.5 833.2L424.4 839.8L422.3 842.5L430 863.5L448.4 860.9L452.6 857.3L462.5 850.3L474 848.6L488.2 864.8L486.6 874.4L479.4 877.2L475.1 890.1L464.6 900.6L457.3 909.4L459.7 924.4L455.6 941.5L458.7 953.4L456.6 964.8L456.6 967L455.7 972.3ZM390.9 934.6L401.4 925.6L404.6 914.4L401 895.8L386.9 912.1L387.6 919.9ZM227 829.9L232.4 824.1L240.2 821.8L240.7 810.6L230.9 814.7L229.4 813.7L226.5 815L221.8 823L215.9 826.8L225.4 830.5ZM284.4 800.9L264.2 803.6L258.7 804.2L262.8 804.7L271.6 810.9L288.5 825L289 820.4ZM645.6 800.2L638 800.8L635.8 810.1L636.1 813L639.2 815L646.8 805.7ZM584 813.2L577.8 797.7L576.9 811.9L578.5 814.1L578.4 814.6L578.2 833L580.3 838.2L580.8 846.3L577.8 857L577.8 859.9L577.8 869L578 884.8L576.5 887.6L577.4 890.2L587.4 878.5L584.9 879.7L587.8 854.8L587.8 845.6L587.3 838.3L585.8 832.8L583.8 813.4ZM201 899.9L199.4 899.7L192.3 898.6L182.9 909.6L188.5 916.2L193.9 921L197.4 921.8L215.9 918.1ZM541.1 824.8L539.9 824.5L529 826.8L530 837.6L529.4 841.7L530.6 844.2L542.7 854.2L542.3 842.8L545.1 835.6L543.7 832.4L541.6 829.1L541 828.7ZM229.2 939.3L229.4 937.2L230.5 934.2L233.3 935.4L268.1 934.2L269.9 918.7L271.3 906L291 893.8L300.3 903.6L308.6 918.6L295.7 931.7L294.1 934.7L280.6 940.9L292.7 962L296 961.7L303 964.9L319.5 980.4L318.9 980.5L306.8 980.5L253.3 978.2L255 976.3L263.7 975.8L278.1 969.6L267.3 947L233.7 938.8L232.3 943.8ZM166 831.4L135.8 821.1L135.4 821.7L132.6 822.4L116.4 816.5L115.4 816.6L112.4 813.9L103 806L103 806L120.8 802.1L120.9 802.1L248.9 804.9L271.7 802.4L287.4 800.3L295.6 834.7L270.2 813.6L263.4 808.8L246.5 806.7L245.8 822.1L232.8 825.8L227.8 831.2L225.4 832.1L211.1 826.6L220 820.9L227 808.9L227.7 808.6L230.3 810.2L239.6 806.3L236.7 806.1L238.8 805.6L227.8 805.8L120.9 802.2L120.9 802.1L135.6 817.4L136.4 818.8L161.7 820.8L163.5 819.2L172.6 812.6L181.2 817.2L184.2 822.9L191 830.4L192.7 840L189.6 848.5L191.7 863.7L190.9 865.6L190.7 865.6L189.7 866L176 868.5L172.1 869.2L154 881L152.9 882.7L151 886.6L136 866.4L135.2 861.1L143.1 856.9L147.6 859.9L153.4 858.8L172.7 861.9L183.8 848.4L177.2 836.5L168.1 832.8ZM341.2 981.4L363.5 978.4L366.3 979.8L370.1 978.2L368.7 981.7ZM336.6 945.1L332.5 922.5L324.9 917.5L322 907.6L324.7 896.6L327.6 891.3L335.3 881.1L336.7 855.2L336.7 855L336.8 854.5L350 826.4L352.5 819L353.3 808L357.1 803.4L354.2 790.1L353.3 788.3L173 793.3L351.4 784L387.5 782.2L386.8 782.6L376.3 800.7L370.3 811.3L380 813.8L389.5 830.7L391.4 844L383.7 858.9L379.9 865.2L370.3 880.5L359.7 892L358.5 901.6L359.1 910.2L357.1 919.6L344.9 920.2ZM648.7 787.6L651.2 787.4L653.5 798.3L638.3 817L632.1 813L631.7 807.2L633.4 799.7L633.1 795.1L636.6 788.2ZM451.7 973.1L453.1 965.3L453 961.8L454.8 952.5L452.2 942.8L457.2 922.3L455.1 909.3L463.3 899.3L472.7 890L477.8 874.7L483.4 872.6L484.6 865.1L473.6 852.5L464.6 853.8L456.9 859.3L450.7 864.6L438.8 866.3L432.3 866.2L418.5 873.2L424.7 864.3L424.6 858.8L418.5 841.9L420.1 839.8L420.2 829.9L422.3 820.5L432.2 804.7L444.3 799.3L444.9 799L445.1 798.1L452.2 787L459.6 782.1L472.3 784.7L474.6 786.6L476.2 804.4L476.2 806L475.2 808.4L477.3 822.4L484.4 812.3L490 805.1L501.6 799.2L507 802.2L526.7 805.5L516.2 818L515.8 824.2L514.7 844.4L514.5 845.9L514.3 852.8L513.2 864L513.4 870.1L518.5 881L521.7 892.4L529.7 883.2L531.8 881L533.8 878.2L544.5 861L539.5 881.4L549.6 891L550.6 892.7L547.2 894.2L524.4 922.2L524.2 922.8L525.6 931.9L528.6 948.7L503.8 974.2L500.4 967.3L503.1 942.5L509 926.8L489.9 928.1L487.1 935L485.5 944.4L481.9 965.7L475.1 972.1L473.6 976.6ZM386.2 921.6L385.2 911.1L404 889.4L408.8 914.2L404.6 929.2L390.5 941.2ZM243.8 881.7L243 888.4L239.5 888.2L234.5 898.9L235.8 886.3L237.5 882.8L238.6 883.4ZM219.3 920.1L197.4 924.5L193.4 923.7L187 918L180.3 910.2L191.5 897.2L199.8 898.5L201.7 898.7ZM544.3 827.2L545.3 827.8L547 830.5L548.2 833.2L543.9 843.8L544.5 861L526.3 845.9L525.7 844.5L526 842L524.4 824.1L542.5 820.2L544.6 820.6Z"/>
<path fill="#fff1aa" d="M553.6 766.9L552.8 769.3L552.5 769.7L557.2 781.3L570.3 791.1L573.4 791.4L573.6 792L572.4 810.6L575.6 815L575.4 815.9L575.2 831L578.8 839.6L579.3 847.1L575.4 860.8L575.3 861L574.3 863.9L574.6 884.6L571.7 890.3L573.5 895.4L593.5 872.1L588.4 874.3L590.8 853.6L590.8 846L590.4 839.9L588 830.7L586.2 813.5L586.5 813.2L577.9 791.5L578.1 788.9L578.2 781.8L573.1 770.4L573.4 767.7L581.8 768.3L582.5 768.4L582.5 768.7L582.3 786.6L581.7 794.6L589.1 813.2L588.5 813.7L590.1 828.5L593.5 841.5L593.8 846.3L593.8 852.4L591.9 869L599.5 865.6L569.5 900.6L566.9 893L571.2 884.5L571 869.6L574 860.9L574.2 860.3L577.7 847.8L577.3 841.1L572.3 829L572.4 817.3L572.7 815.9L567.9 809.3L568.7 796L568.3 794.3L559 793.3L552.5 788.4L546.7 774.2L544.6 767.1L544.9 766.8L546.3 766.8ZM297.7 980.4L241.7 978L245 974.1L262.4 973.2L274.2 968.2L265.3 949.6L237.8 942.9L233.6 957.9L224.5 944.4L224.9 938.1L228.4 929.3L236.6 932.8L266.4 931.8L268 918.5L269.6 904.4L291.2 891L301.6 901.8L310.8 918.3L296.5 932.8L294.7 936.2L283.9 941.1L293.6 958L296.2 957.8L305.6 962L315.8 971.7L329.1 973L347.7 970.8L361.8 973.8L366.9 976.4L378.4 971.6L374 982.1L333.5 981.6L348.6 982.1L322.5 981.3ZM232.3 943.8L233.7 938.8L267.3 947L278.1 969.6L263.7 975.8L255 976.3L253.3 978.2L306.8 980.5L318.9 980.5L319.5 980.4L303 964.9L296 961.7L292.7 962L280.6 940.9L294.1 934.7L295.7 931.7L308.6 918.6L300.3 903.6L291 893.8L271.3 906L269.9 918.7L268.1 934.2L233.3 935.4L230.5 934.2L229.4 937.2L229.2 939.3ZM168.1 832.8L177.2 836.5L183.8 848.4L172.7 861.9L153.4 858.8L147.6 859.9L143.1 856.9L135.2 861.1L136 866.4L151 886.6L152.9 882.7L154 881L172.1 869.2L176 868.5L189.7 866L190.7 865.6L190.9 865.6L191.7 863.7L189.6 848.5L192.7 840L191 830.4L184.2 822.9L181.2 817.2L172.6 812.6L163.5 819.2L161.7 820.8L136.4 818.8L135.6 817.4L120.9 802.1L120.9 802.2L227.8 805.8L238.8 805.6L236.7 806.1L239.6 806.3L230.3 810.2L227.7 808.6L227 808.9L220 820.9L211.1 826.6L225.4 832.1L227.8 831.2L232.8 825.8L245.8 822.1L246.5 806.7L263.4 808.8L270.2 813.6L295.6 834.7L295.6 834.7L287.4 800.3L271.7 802.4L248.9 804.9L120.9 802.1L120.8 802.1L103 806L103 806L112.4 813.9L115.4 816.6L116.4 816.5L132.6 822.4L135.4 821.7L135.8 821.1L166 831.4ZM368.7 981.7L370.1 978.2L366.3 979.8L363.5 978.4L341.2 981.4ZM344.9 920.2L357.1 919.6L359.1 910.2L358.5 901.6L359.7 892L370.3 880.5L379.9 865.2L383.7 858.9L391.4 844L389.5 830.7L380 813.8L370.3 811.3L376.3 800.7L386.8 782.6L387.5 782.2L351.4 784L173 793.3L353.3 788.3L354.2 790.1L357.1 803.4L353.3 808L352.5 819L350 826.4L336.8 854.5L336.7 855L336.7 855.2L335.3 881.1L327.6 891.3L324.7 896.6L322 907.6L324.9 917.5L332.5 922.5L336.6 945.1ZM636.6 788.2L633.1 795.1L633.4 799.7L631.7 807.2L632.1 813L638.3 817L653.5 798.3L651.2 787.4L648.7 787.6ZM473.6 976.6L475.1 972.1L481.9 965.7L485.5 944.4L487.1 935L489.9 928.1L509 926.8L503.1 942.5L500.4 967.3L503.8 974.2L528.6 948.7L525.6 931.9L524.2 922.8L524.4 922.2L547.2 894.2L550.6 892.7L549.6 891L539.5 881.4L544.5 861L533.8 878.2L531.8 881L529.7 883.2L521.7 892.4L518.5 881L513.4 870.1L513.2 864L514.3 852.8L514.5 845.9L514.7 844.4L515.8 824.2L516.2 818L526.7 805.5L507 802.2L501.6 799.2L490 805.1L484.4 812.3L477.3 822.4L475.2 808.4L476.2 806L476.2 804.4L474.6 786.6L472.3 784.7L459.6 782.1L452.2 787L445.1 798.1L444.9 799L444.3 799.3L432.2 804.7L422.3 820.5L420.2 829.9L420.1 839.8L418.5 841.9L424.6 858.8L424.7 864.3L418.5 873.2L432.3 866.2L438.8 866.3L450.7 864.6L456.9 859.3L464.6 853.8L473.6 852.5L484.6 865.1L483.4 872.6L477.8 874.7L472.7 890L463.3 899.3L455.1 909.3L457.2 922.3L452.2 942.8L454.8 952.5L453 961.8L453.1 965.3L451.7 973.1ZM390.5 941.2L404.6 929.2L408.8 914.2L404 889.4L385.2 911.1L386.2 921.6ZM238.6 883.4L237.5 882.8L235.8 886.3L234.5 898.9L239.5 888.2L243 888.4L243.8 881.7ZM201.7 898.7L199.8 898.5L191.5 897.2L180.3 910.2L187 918L193.4 923.7L197.4 924.5L219.3 920.1ZM544.6 820.6L542.5 820.2L524.4 824.1L526 842L525.7 844.5L526.3 845.9L544.5 861L543.9 843.8L548.2 833.2L547 830.5L545.3 827.8L544.3 827.2ZM164.9 832.8L137.3 823.3L136.2 825L127.9 827.1L118.1 823.6L115.3 823.7L106.2 815.8L101.5 811.9L91.8 800.7L94.7 798.7L91.8 797.8L133 798.9L135 799.3L170.9 801.1L262.7 803L279.1 801.3L290.4 799.8L296.3 824.5L298.8 827.2L305.6 830.9L297.5 837.3L289.6 840.2L287 831.4L268.9 816.3L264 812.8L251.9 811.4L251.5 822.3L233.2 827.6L228.7 832.6L225.4 833.8L206.4 826.4L218.2 818.8L224.9 807.4L223.2 807.2L214.1 807.2L216.9 806.6L175.7 807.1L176.2 807.4L186.2 812.8L187.5 815.2L198.8 827.9L199.4 831.5L193.2 848.5L195.1 862.2L192.8 867.9L192.1 867.8L189.1 869L177.4 871.1L170.8 872.4L156 882L153.8 885.4L152.3 888.5L134 863.7L133.5 860.2L142.8 855.2L148.1 858.7L155 857.4L171.9 860.2L181.6 848.4L175.8 837.9L167.8 834.7ZM658.1 780.8L660.3 791L637.5 819L628.2 813.1L627.5 804.2L628.8 798.7L628.2 789.4L635.2 775.7L639.9 775.4L653.1 777.8L657.6 780.6ZM335.1 959.3L329 925.4L317.5 917.9L316.3 913.8L320.5 896.4L325.2 888L331.1 880.2L332.2 859.7L333.7 855.1L333 844.6L339.9 839.3L346.8 824.7L348 821L349.1 806.3L350.4 804.8L348.9 798L346.9 790.5L345.8 789.6L167.5 794.3L104.7 796L143.9 794L391.6 781.5L386.9 784.3L377.3 801L371.7 810.8L384.7 814.1L392 827.2L394.3 843L385.2 860.6L382 865.8L370.8 883.9L361.7 893.8L360.6 902L361.1 909.4L358.5 921.5L347.6 922ZM136.9 812.1L139.2 816.3L158.8 817.9L161.5 815.6L173.2 807.1L171.3 806.9L128.3 803.3ZM447.7 974L449.5 963.5L449.5 958.9L450.8 951.7L448.8 944.1L454.6 920.2L452.9 909.1L461.9 898.1L470.2 889.9L476.1 872.2L480.1 870.7L481 865.3L473.1 856.3L466.7 857.3L461.2 861.2L452.9 868.2L447.6 869L434.6 868.9L407 883L419.4 865L419.2 854L414.6 841.4L415.9 839.8L415.9 826.6L417.6 819.2L430 799.5L439.5 795.3L444 794.1L449.9 784.7L459 778.8L474.5 781.9L477.4 784.2L479.3 806L479.3 806L479.3 806L502.5 794.1L504.3 795.1L537.2 800.5L519.7 821.3L519.7 821.3L518.2 847.2L518.1 847.7L518.1 850L516.7 864L516.9 867.6L523 881L529.1 872.5L535.5 862.2L528.2 852.7L522.1 847.7L521.9 847.2L522 846.4L519.7 821.3L545 815.9L548 816.4L547.7 825.7L549 826.5L550.3 828.6L551.3 830.7L545.6 844.9L546.1 860.5L546.1 861L549.7 867.6L546.1 882.1L553.3 889L556.3 894.2L546.3 898.7L526.7 922.7L526.5 923.6L528.3 936.3L530.4 947.6L501.8 976.9L497.9 969L500.9 940.4L505.2 929.2L491.5 930.1L489.5 935L488.4 941.7L484 967.8L478.9 972.5L476.9 978.5ZM384.7 923.2L383.5 910.1L407 883L412.9 914.1L407.7 932.7L390.2 947.7ZM248.9 877.1L247.2 890.6L240.4 890.1L230.4 911.6L232.9 886.4L236.3 879.3L238.6 880.5ZM222.8 922.2L197.5 927.3L192.8 926.3L185.4 919.8L177.7 910.7L190.6 895.7L200.3 897.2L202.4 897.5Z"/>
<path fill="#feffc0" d="M189 789.7L229.7 786.9L235.7 786.6L231.6 786.9L171.4 791.1L183.9 790.8L165 792.4L395.6 780.8L387 786L378.2 801.3L373.1 810.2L389.3 814.3L394.6 823.7L397.2 841.9L386.7 862.3L384.2 866.4L371.2 887.3L363.6 895.5L362.7 902.3L363.2 908.5L360 923.3L350.3 923.8L336.5 964.7L338.2 965.6L363.4 970.9L367.5 973L386.7 965L379.3 982.5L351 982.2L390.3 983.4L348.6 982.1L333.5 981.6L374 982.1L378.4 971.6L366.9 976.4L361.8 973.8L347.7 970.8L329.1 973L315.8 971.7L305.6 962L296.2 957.8L293.6 958L283.9 941.1L294.7 936.2L296.5 932.8L310.8 918.3L301.6 901.8L291.2 891L269.6 904.4L268 918.5L266.4 931.8L236.6 932.8L228.4 929.3L224.9 938.1L224.5 944.4L233.6 957.9L237.8 942.9L265.3 949.6L274.2 968.2L262.4 973.2L245 974.1L241.7 978L297.7 980.4L258 979L230 977.7L235 972L261 970.6L270.2 966.7L263.4 952.3L241.9 947.1L235 972L219.8 949.5L220.4 939.1L226.2 924.3L239.9 930.2L264.8 929.4L266.1 918.3L267.8 902.9L291.5 888.1L302.8 900L311.6 915.8L316.4 896.1L322.8 884.7L326.9 879.2L327.7 864.8L330.7 855.4L329.4 833.9L343.5 823L339.9 811.4L341.7 800.1L339.9 793.4L337.1 791.2L243.5 793.7L145.2 796.4L192.9 797.6L199 798.9L220.8 800L276.6 801.2L286.6 800.1L293.4 799.2L297 814.2L301.9 819.7L315.7 827L299.4 839.9L283.7 845.7L278.4 828L267.5 819L264.6 816.9L257.3 816L257.1 822.6L233.7 829.4L229.5 833.9L225.4 835.4L204.5 827.3L196.7 848.5L198.4 860.7L194.6 870.1L193.5 870L188.5 872L178.7 873.8L169.5 875.5L158 883L154.7 888.1L153.7 890.3L132 861L131.7 859.2L142.5 853.5L148.6 857.6L156.5 856.1L171.1 858.4L179.3 848.3L174.4 839.3L167.5 836.6L163.8 834.1L138.9 825.6L137 828.3L123.2 831.9L119.9 830.8L115.1 830.9L100 817.7L86.2 798L85.4 796.8ZM544.9 766.8L544.6 767.1L546.7 774.2L552.5 788.4L559 793.3L568.3 794.3L568.7 796L567.9 809.3L572.7 815.9L572.4 817.3L572.3 829L577.3 841.1L577.7 847.8L574.2 860.3L574 860.9L571 869.6L571.2 884.5L566.9 893L569.5 900.6L599.5 865.6L591.9 869L593.8 852.4L593.8 846.3L593.5 841.5L590.1 828.5L588.5 813.7L589.1 813.2L581.7 794.6L582.3 786.6L582.5 768.7L582.5 768.4L587.1 768.7L586.6 771L586.5 784.4L585.5 797.7L591.7 813.2L590.9 813.8L592.2 826.4L596.6 843L596.9 846.7L596.9 851.3L595.5 863.7L605.6 859.1L565.5 905.8L562 895.6L567.8 884.3L567.7 875.4L572.6 860.9L573 859.8L576.1 848.6L575.7 842.6L569.4 827L569.5 818.6L569.7 816.9L563.4 808L563.9 800L563.1 797.2L547.7 795.5L539.8 768L540.6 766.8ZM666.4 778.2L662 778.1L664.7 779.9L666.3 780.2L667 783.7L636.6 821L624.2 813.1L623.3 801.3L624.2 797.6L623.6 788.4L623.1 781.8L627.5 772.3L634.9 773.4L652.7 776.1ZM167.8 834.7L175.8 837.9L181.6 848.4L171.9 860.2L155 857.4L148.1 858.7L142.8 855.2L133.5 860.2L134 863.7L152.3 888.5L153.8 885.4L156 882L170.8 872.4L177.4 871.1L189.1 869L192.1 867.8L192.8 867.9L195.1 862.2L193.2 848.5L199.4 831.5L198.8 827.9L187.5 815.2L186.2 812.8L176.2 807.4L175.7 807.1L216.9 806.6L214.1 807.2L223.2 807.2L224.9 807.4L218.2 818.8L206.4 826.4L225.4 833.8L228.7 832.6L233.2 827.6L251.5 822.3L251.9 811.4L264 812.8L268.9 816.3L287 831.4L289.6 840.2L297.5 837.3L305.6 830.9L298.8 827.2L296.3 824.5L290.4 799.8L279.1 801.3L262.7 803L170.9 801.1L135 799.3L133 798.9L91.8 797.8L94.7 798.7L91.8 800.7L101.5 811.9L106.2 815.8L115.3 823.7L118.1 823.6L127.9 827.1L136.2 825L137.3 823.3L164.9 832.8ZM657.6 780.6L653.1 777.8L639.9 775.4L635.2 775.7L628.2 789.4L628.8 798.7L627.5 804.2L628.2 813.1L637.5 819L660.3 791L658.1 780.8ZM347.6 922L358.5 921.5L361.1 909.4L360.6 902L361.7 893.8L370.8 883.9L382 865.8L385.2 860.6L394.3 843L392 827.2L384.7 814.1L371.7 810.8L377.3 801L386.9 784.3L391.6 781.5L143.9 794L104.7 796L167.5 794.3L345.8 789.6L346.9 790.5L348.9 798L350.4 804.8L349.1 806.3L348 821L346.8 824.7L339.9 839.3L333 844.6L333.7 855.1L332.2 859.7L331.1 880.2L325.2 888L320.5 896.4L316.3 913.8L317.5 917.9L329 925.4L335.1 959.3ZM128.3 803.3L171.3 806.9L173.2 807.1L161.5 815.6L158.8 817.9L139.2 816.3L136.9 812.1ZM476.9 978.5L478.9 972.5L484 967.8L488.4 941.7L489.5 935L491.5 930.1L505.2 929.2L500.9 940.4L497.9 969L501.8 976.9L530.4 947.6L528.3 936.3L526.5 923.6L526.7 922.7L546.3 898.7L556.3 894.2L553.3 889L546.1 882.1L549.7 867.6L546.1 861L546.1 860.5L545.6 844.9L551.3 830.7L550.3 828.6L549 826.5L547.7 825.7L548 816.4L545 815.9L519.7 821.3L522 846.4L521.9 847.2L522.1 847.7L528.2 852.7L535.5 862.2L529.1 872.5L523 881L523 881L523 881L516.9 867.6L516.7 864L518.1 850L518.1 847.7L518.2 847.2L519.7 821.3L519.7 821.3L537.2 800.5L504.3 795.1L502.5 794.1L479.3 806L479.3 806L479.3 806L479.3 806L479.3 806L477.4 784.2L474.5 781.9L459 778.8L449.9 784.7L444 794.1L439.5 795.3L430 799.5L417.6 819.2L415.9 826.6L415.9 839.8L414.6 841.4L419.2 854L419.4 865L407 883L434.6 868.9L447.6 869L452.9 868.2L461.2 861.2L466.7 857.3L473.1 856.3L481 865.3L480.1 870.7L476.1 872.2L470.2 889.9L461.9 898.1L452.9 909.1L454.6 920.2L448.8 944.1L450.8 951.7L449.5 958.9L449.5 963.5L447.7 974ZM390.2 947.7L407.7 932.7L412.9 914.1L407 883L383.5 910.1L384.7 923.2ZM238.6 880.5L236.3 879.3L232.9 886.4L230.4 911.6L240.4 890.1L247.2 890.6L248.9 877.1ZM202.4 897.5L200.3 897.2L190.6 895.7L177.7 910.7L185.4 919.8L192.8 926.3L197.5 927.3L222.8 922.2ZM138.1 806.8L142 813.9L156 815L159.4 812L166.5 806.9L147.5 805.4L135.8 804.4ZM444.5 974.8L444.6 969.6L445.9 961.7L445.9 956L446.9 950.8L445.5 945.4L452.1 918L450.6 909L460.6 896.9L467.8 889.8L474.5 869.7L476.9 868.8L477.4 865.6L472.7 860.2L468.8 860.8L465.5 863.1L456.6 870.7L454.6 871.7L436.9 871.6L413 883.8L413.1 887.6L412.5 889.7L417.1 913.9L410.9 936.3L398 947.3L393.1 952.7L386.7 965L387.8 951.9L388.9 950.2L383.3 924.9L381.8 909.2L401.4 886.5L404.2 880.2L414.1 865.8L413.8 849.3L410.7 840.9L411.6 839.8L411.7 823.3L412.9 818L427.7 794.3L433.4 791.8L443.4 789.2L447.7 782.5L458.4 775.4L476.7 779.2L480.1 781.9L481.1 792.8L496.3 787.5L500.3 785.3L503.2 786.3L505.4 788.7L547.7 795.5L530.7 815.2L547.6 811.6L551.5 812.2L551 824.2L552.7 825.2L553.7 826.7L554.3 828.2L547.2 846L547.7 860L547.7 860.9L554.9 874.1L552.8 882.9L557.1 887L562 895.6L545.3 903.2L529 923.2L528.7 924.3L531.1 940.7L532.1 946.4L499.7 979.7L495.4 970.6L498.8 938.2L501.4 931.5L493.2 932L492 935L491.3 939L486.1 969.9L482.7 973L480.2 980.5L459.4 977.3ZM331.7 963.4L325.5 928.2L312.2 919.6L311.4 919.7L297.3 934L295.4 937.6L287.2 941.3L294.5 954L296.5 953.8L306.9 958.5L307.8 958.7ZM194.7 807.5L195 807.5L189.7 807.5L191.1 808.3L195 812.8L204.9 822L204.4 824.5L216.4 816.7L221.4 808.2L217.2 807.6ZM254 872.6L251.5 892.8L241.2 892.1L226.2 924.3L230.1 886.5L235.1 875.9L238.5 877.7ZM226.2 924.3L197.6 930L192.2 928.9L183.9 921.5L175.1 911.3L189.8 894.3L200.7 896L203.1 896.2ZM524.4 866.8L526.5 863.4L521 856.3L520.2 864L520.3 865.2L522.3 869.7Z"/>
<path fill="#f1fad9" d="M100 817.7L115.1 830.9L119.9 830.8L123.2 831.9L137 828.3L138.9 825.6L163.8 834.1L167.5 836.6L174.4 839.3L179.3 848.3L171.1 858.4L156.5 856.1L148.6 857.6L142.5 853.5L131.7 859.2L132 861L153.7 890.3L154.7 888.1L158 883L169.5 875.5L178.7 873.8L188.5 872L193.5 870L194.6 870.1L198.4 860.7L196.7 848.5L204.5 827.3L225.4 835.4L229.5 833.9L233.7 829.4L257.1 822.6L257.3 816L264.6 816.9L267.5 819L278.4 828L283.7 845.7L299.4 839.9L315.7 827L301.9 819.7L297 814.2L293.4 799.2L286.6 800.1L276.6 801.2L220.8 800L199 798.9L192.9 797.6L145.2 796.4L243.5 793.7L337.1 791.2L339.9 793.4L341.7 800.1L339.9 811.4L343.5 823L329.4 833.9L330.7 855.4L327.7 864.8L326.9 879.2L322.8 884.7L316.4 896.1L311.6 915.8L302.8 900L291.5 888.1L267.8 902.9L266.1 918.3L264.8 929.4L239.9 930.2L226.2 924.3L220.4 939.1L219.8 949.5L235 972L241.9 947.1L263.4 952.3L270.2 966.7L261 970.6L235 972L230 977.7L258 979L218.3 977.5L218.3 977.5L222.7 965.9L215 954.7L215.9 940L220.5 928.2L197.6 932.8L191.7 931.5L182.3 923.3L172.6 911.8L188.9 892.8L201.2 894.7L203.8 895L223.8 919.3L227.2 886.5L233.9 872.5L238.5 874.9L259.1 868.1L255.7 894.9L242 894L229.3 921.3L232.2 922.9L243.2 927.6L263.1 926.9L264.1 918.1L266 901.3L291.8 885.3L304.1 898.2L309.4 907.7L312.2 895.9L320.3 881.4L322.7 878.2L323.2 869.9L327.8 855.6L325.7 823.2L325.7 823.2L325.7 823.2L325.7 823.2L329.8 794.9L327.2 793L228.5 795.8L252.9 796.4L263.1 798.6L270.8 798.9L290.5 799.4L294 799L296.5 798.7L297.7 804L305.1 812.2L325.7 823.2L301.2 842.5L277.7 851.2L269.8 824.7L266.2 821.7L265.2 821L262.8 820.7L262.7 822.9L234.1 831.2L230.3 835.3L225.4 837L207.1 830L200.3 848.5L201.8 859.2L196.5 872.4L194.9 872.2L187.9 875L180.1 876.4L168.2 878.7L160 884.1L155.6 890.8L155 892.1L130 858.3L142.2 851.8L149.1 856.5L158.1 854.7L170.2 856.7L177.1 848.3L173 840.8L167.3 838.5L162.8 835.4L140.4 827.8L137.8 831.7L123 835.5L130 858.3L115 838L115 838L115 838ZM333.3 779.7L430.5 773.2L444.9 772.4L435.1 773.2L291 783.2L320.9 782.5L275.8 786.4L399.7 780.1L387.1 787.8L379.1 801.6L374.5 809.6L394 814.6L397.2 820.2L400.1 840.9L388.3 863.9L386.3 867L371.6 890.7L365.6 897.3L364.8 902.7L365.2 907.7L361.4 925.1L352.9 925.6L340.9 961.4L346.1 964L365 968L368 969.5L382.5 963.6L383.3 953.8L386.8 948.7L381.8 926.5L380.1 908.2L395.8 890.1L401.3 877.4L408.7 866.6L408.4 844.5L406.9 840.3L407.3 839.8L407.4 820L408.1 816.8L425.4 789.2L427.3 788.3L442.8 784.2L445.4 780.2L457.7 772L478.9 776.4L482.8 779.5L482.8 779.5L482.8 779.5L494.8 772.8L503.8 775.8L510.2 783L538.4 787.5L540.3 787.2L535 768.9L536.4 766.8L540.6 766.8L539.8 768L547.7 795.5L563.1 797.2L563.9 800L563.4 808L569.7 816.9L569.5 818.6L569.4 827L575.7 842.6L576.1 848.6L573 859.8L572.6 860.9L567.7 875.4L567.8 884.3L562 895.6L565.5 905.8L605.6 859.1L595.5 863.7L596.9 851.3L596.9 846.7L596.6 843L592.2 826.4L590.9 813.8L591.7 813.2L585.5 797.7L586.5 784.4L586.6 771L587.1 768.7L591.6 769L590.7 773.2L590.6 782.2L589.3 800.8L594.2 813.2L593.3 814L594.4 824.3L599.8 844.6L599.9 847L599.9 850.1L599 858.4L611.6 852.6L561.6 911.1L558.8 903.1L557.7 901.6L544.4 907.7L531.3 923.7L531 925.1L533.9 945.1L533.9 945.2L497.7 982.4L492.8 972.3L496.7 936.1L497.5 933.8L494.8 934L494.4 935L494.2 936.3L488.2 971.9L486.5 973.5L483.5 982.5L471 980.6L441.3 975.6L441.5 965.2L442.4 960L442.3 953.1L442.9 950L442.1 946.7L449.5 915.9L448.4 908.9L459.3 895.7L465.4 889.7L472.8 867.2L473.6 866.9L473.8 865.9L472.2 864.1L470.9 864.3L469.8 865L466.9 867.6L454.2 874.4L439.3 874.2L419 884.6L419.2 892.3L418 896.4L421.3 913.7L414 939.8L414 939.8L399.4 956.1L395.2 964.1L388.8 973L384.6 982.9L368.6 982.7L432.1 984.6L390.3 983.4L351 982.2L379.3 982.5L386.7 965L367.5 973L363.4 970.9L338.2 965.6L336.5 964.7L350.3 923.8L360 923.3L363.2 908.5L362.7 902.3L363.6 895.5L371.2 887.3L384.2 866.4L386.7 862.3L397.2 841.9L394.6 823.7L389.3 814.3L373.1 810.2L378.2 801.3L387 786L395.6 780.8L165 792.4L183.9 790.8L171.4 791.1L231.6 786.9L235.7 786.6L229.7 786.9L189 789.7ZM627.5 772.3L623.1 781.8L623.6 788.4L624.2 797.6L623.3 801.3L624.2 813.1L636.6 821L667 783.7L666.3 780.2L664.7 779.9L662 778.1L666.4 778.2L670.4 778.8L670.4 780L665.7 786.2L635.8 823L620.3 813.1L619.2 798.4L619.6 796.6L619.3 791.9L617.9 772.2L618.4 771ZM135.8 804.4L147.5 805.4L166.5 806.9L159.4 812L156 815L142 813.9L138.1 806.8ZM459.4 977.3L480.2 980.5L482.7 973L486.1 969.9L491.3 939L492 935L493.2 932L501.4 931.5L498.8 938.2L495.4 970.6L499.7 979.7L532.1 946.4L531.1 940.7L528.7 924.3L529 923.2L545.3 903.2L562 895.6L557.1 887L552.8 882.9L554.9 874.1L547.7 860.9L547.7 860L547.2 846L554.3 828.2L553.7 826.7L552.7 825.2L551 824.2L551.5 812.2L547.6 811.6L530.7 815.2L547.7 795.5L505.4 788.7L503.2 786.3L500.3 785.3L496.3 787.5L481.1 792.8L480.1 781.9L476.7 779.2L458.4 775.4L447.7 782.5L443.4 789.2L433.4 791.8L427.7 794.3L412.9 818L411.7 823.3L411.6 839.8L410.7 840.9L413.8 849.3L414.1 865.8L404.2 880.2L401.4 886.5L381.8 909.2L383.3 924.9L388.9 950.2L387.8 951.9L386.7 965L393.1 952.7L398 947.3L410.9 936.3L417.1 913.9L412.5 889.7L413.1 887.6L413 883.8L436.9 871.6L454.6 871.7L456.6 870.7L465.5 863.1L468.8 860.8L472.7 860.2L477.4 865.6L476.9 868.8L474.5 869.7L467.8 889.8L460.6 896.9L450.6 909L452.1 918L445.5 945.4L446.9 950.8L445.9 956L445.9 961.7L444.6 969.6L444.5 974.8ZM307.8 958.7L306.9 958.5L296.5 953.8L294.5 954L287.2 941.3L295.4 937.6L297.3 934L311.4 919.7L312.2 919.6L325.5 928.2L331.7 963.4ZM217.2 807.6L221.4 808.2L216.4 816.7L204.4 824.5L204.9 822L195 812.8L191.1 808.3L189.7 807.5L195 807.5L194.7 807.5ZM238.5 877.7L235.1 875.9L230.1 886.5L226.2 924.3L241.2 892.1L251.5 892.8L254 872.6ZM203.1 896.2L200.7 896L189.8 894.3L175.1 911.3L183.9 921.5L192.2 928.9L197.6 930L226.2 924.3ZM522.3 869.7L520.3 865.2L520.2 864L521 856.3L526.5 863.4L524.4 866.8ZM326.6 957.5L321.9 931.1L312 924.6L308.1 924.9L298.1 935.1L296 939.1L290.6 941.5L295.4 950L296.7 949.9L303.6 953L308.7 954ZM159.7 806.7L148.3 805.8L141.6 805.7L144.8 811.4L153.2 812.1L157.4 808.4ZM241.1 969L259.7 968.1L266.3 965.2L261.4 954.9L246.1 951.2ZM205 808L208.5 811.2L206.6 819.8L214.6 814.6L217.9 808.9L211.2 808ZM558.9 806.7L559 804L558 800.1L550.2 799.2L541.8 809.1L550.2 807.3L554.9 808.1L554.3 822.6L556.4 823.9L557 824.8L557.4 825.7L548.9 847.1L549.3 859.6L549.3 860.9L560.1 880.7L559.4 883.6L560.8 885L562.5 887.9L564.4 884.1L564.4 881.1L571.3 860.9L571.7 859.4L574.6 849.4L574.2 844L566.4 825L566.5 820L566.8 817.8Z"/>
<path fill="#e4f4f1" d="M205 959.7L210.3 959.8L211.4 941L214.9 932.1L197.7 935.5L191.1 934.2L180.8 925L170 912.4L188.1 891.4L201.6 893.5L204.5 893.8L221.5 914.4L224.3 886.6L232.7 869.1L238.4 872.1L264.1 863.5L260 897.1L242.9 896L232.5 918.3L238.3 921.5L246.5 925L261.4 924.5L262.2 917.9L264.2 899.7L274.8 893.2L277.5 870.6L295.4 880.1L310.1 879.2L301.3 892.1L305.4 896.4L307.1 899.6L308.1 895.6L317.9 878.1L318.5 877.3L318.7 875L324.9 855.8L323.1 829.3L303.1 845.1L271.7 856.7L266.4 838.8L264 824.4L234.5 832.9L231.1 836.6L225.4 838.7L209.7 832.6L203.9 848.5L205.2 857.6L198.3 874.7L196.3 874.4L187.3 878L181.4 879.1L166.9 881.9L162 885.1L156.5 893.5L156.3 893.9L148 882.6L170 912.4L130 858.3L115 838L115 838L115 838L115 838L130 858.3L123 835.5L137.8 831.7L140.4 827.8L162.8 835.4L167.3 838.5L173 840.8L177.1 848.3L170.2 856.7L158.1 854.7L149.1 856.5L142.2 851.8L130 858.3L155 892.1L155.6 890.8L160 884.1L168.2 878.7L180.1 876.4L187.9 875L194.9 872.2L196.5 872.4L201.8 859.2L200.3 848.5L207.1 830L225.4 837L230.3 835.3L234.1 831.2L262.7 822.9L262.8 820.7L265.2 821L266.2 821.7L269.8 824.7L277.7 851.2L301.2 842.5L325.7 823.2L305.1 812.2L297.7 804L296.5 798.7L294 799L290.5 799.4L270.8 798.9L263.1 798.6L252.9 796.4L228.5 795.8L327.2 793L329.8 794.9L325.7 823.2L325.7 823.2L325.7 823.2L325.7 823.2L327.8 855.6L323.2 869.9L322.7 878.2L320.3 881.4L312.2 895.9L309.4 907.7L304.1 898.2L291.8 885.3L266 901.3L264.1 918.1L263.1 926.9L243.2 927.6L232.2 922.9L229.3 921.3L242 894L255.7 894.9L259.1 868.1L238.5 874.9L233.9 872.5L227.2 886.5L223.8 919.3L203.8 895L201.2 894.7L188.9 892.8L172.6 911.8L182.3 923.3L191.7 931.5L197.6 932.8L220.5 928.2L215.9 940L215 954.7L222.7 965.9L218.3 977.5L218.3 977.5L218.3 977.5L218.3 977.5ZM477.5 769.8L506.4 767.9L508.7 768.5L509.2 770.9L514.9 777.3L529 779.6L532.8 778.9L530.2 769.7L532.2 766.8L536.4 766.8L535 768.9L540.3 787.2L538.4 787.5L510.2 783L503.8 775.8L494.8 772.8L482.8 779.5L482.8 779.5L482.8 779.5L478.9 776.4L457.7 772L445.4 780.2L442.8 784.2L427.3 788.3L425.4 789.2L408.1 816.8L407.4 820L407.3 839.8L406.9 840.3L408.4 844.5L408.7 866.6L401.3 877.4L395.8 890.1L380.1 908.2L381.8 926.5L386.8 948.7L383.3 953.8L382.5 963.6L368 969.5L365 968L346.1 964L340.9 961.4L352.9 925.6L361.4 925.1L365.2 907.7L364.8 902.7L365.6 897.3L371.6 890.7L386.3 867L388.3 863.9L400.1 840.9L397.2 820.2L394 814.6L374.5 809.6L379.1 801.6L387.1 787.8L399.7 780.1L275.8 786.4L320.9 782.5L291 783.2L435.1 773.2L444.9 772.4L430.5 773.2L333.3 779.7ZM596.2 769.4L594.9 775.5L594.8 779.9L593.1 803.9L596.8 813.2L595.7 814.1L596.5 822.2L602.9 846.1L603 847.4L603 848.9L602.5 853L617.7 846.2L557.6 916.3L555.6 910.6L553.4 907.6L543.4 912.2L533.7 924.2L533.2 925.8L535.5 940.9L537.8 940.7L534 945.2L508 972.5L495.7 985.1L490.3 974L490.3 974L490.3 974L486.8 984.5L482.7 983.9L438 976.4L438.4 960.8L438.9 958.2L438.8 950.2L439 949.1L438.7 948L447 913.8L446.2 908.8L458 894.5L462.9 889.5L470 868.3L453.8 877.1L441.6 876.9L425 885.4L425.3 896.9L423.5 903.1L425.5 913.5L421.1 929.2L429.3 945.7L424.6 948.1L412.4 951.9L405.6 959.4L403.7 963.2L390.9 981L389.9 983.3L386.1 983.2L473.8 985.9L432.1 984.6L368.6 982.7L384.6 982.9L388.8 973L395.2 964.1L399.4 956.1L414 939.8L414 939.8L421.3 913.7L418 896.4L419.2 892.3L419 884.6L439.3 874.2L454.2 874.4L466.9 867.6L469.8 865L470.9 864.3L472.2 864.1L473.8 865.9L473.6 866.9L472.8 867.2L465.4 889.7L459.3 895.7L448.4 908.9L449.5 915.9L442.1 946.7L442.9 950L442.3 953.1L442.4 960L441.5 965.2L441.3 975.6L471 980.6L483.5 982.5L486.5 973.5L488.2 971.9L494.2 936.3L494.4 935L494.8 934L497.5 933.8L496.7 936.1L492.8 972.3L497.7 982.4L533.9 945.2L533.9 945.1L531 925.1L531.3 923.7L544.4 907.7L557.7 901.6L558.8 903.1L561.6 911.1L611.6 852.6L599 858.4L599.9 850.1L599.9 847L599.8 844.6L594.4 824.3L593.3 814L594.2 813.2L589.3 800.8L590.6 782.2L590.7 773.2L591.6 769ZM618.4 771L617.9 772.2L619.3 791.9L619.6 796.6L619.2 798.4L620.3 813.1L635.8 823L665.7 786.2L656.3 798.8L634.9 825L616.3 813.1L615 795.5L615 795.5L608.8 774L607.6 770.2L617.2 770.9ZM308.7 954L303.6 953L296.7 949.9L295.4 950L290.6 941.5L296 939.1L298.1 935.1L308.1 924.9L312 924.6L321.9 931.1L326.6 957.5ZM157.4 808.4L153.2 812.1L144.8 811.4L141.6 805.7L148.3 805.8L159.7 806.7ZM246.1 951.2L261.4 954.9L266.3 965.2L259.7 968.1L241.1 969ZM211.2 808L217.9 808.9L214.6 814.6L206.6 819.8L208.5 811.2L205 808ZM566.8 817.8L566.5 820L566.4 825L574.2 844L574.6 849.4L571.7 859.4L571.3 860.9L564.4 881.1L564.4 884.1L562.5 887.9L560.8 885L559.4 883.6L560.1 880.7L549.3 860.9L549.3 859.6L548.9 847.1L557.4 825.7L557 824.8L556.4 823.9L554.3 822.6L554.9 808.1L550.2 807.3L541.8 809.1L550.2 799.2L558 800.1L559 804L558.9 806.7ZM410.7 775.3L431.4 774.8L434.8 777.7L433.2 781.7L442.3 779.3L443.1 777.9L447.6 775L443.8 773ZM161.7 836.7L142 830L138.6 835L127.5 837.9L132.8 855L141.9 850.1L149.7 855.3L159.7 853.4L169.4 854.9L174.9 848.2L171.6 842.2L167 840.4ZM345.3 958L354 962.5L366.6 965.1L368.6 966.1L378.2 962.1L378.8 955.6L384.6 947.2L380.3 928.1L378.4 907.2L390.2 893.6L398.5 874.5L403.4 867.4L403 839.8L403.1 816.7L403.4 815.6L412.7 800.8L409.3 781.1L411.3 778.2L386.6 780.3L403.8 779.4L387.2 789.5L380.1 801.9L375.9 809.1L398.7 814.9L399.7 816.7L403 839.8L389.8 865.6L388.5 867.7L372 894.1L367.5 899L366.9 903.1L367.2 906.8L362.9 927L355.6 927.4ZM321.5 951.6L318.4 934L311.8 929.7L304.9 930.1L298.8 936.3L296.6 940.5L293.9 941.8L296.3 946L297 945.9L300.4 947.5L309.6 949.2ZM311.7 795.2L312.9 795.2L314.1 795.4L303.7 799.6L308.2 804.7L315.1 808.4L316.3 796.4L316.5 795.1L316.4 795ZM146.5 807L147.6 808.9L150.4 809.2L152.7 807.1ZM247.2 966.1L258.4 965.5L262.3 963.8L259.4 957.6L250.2 955.4ZM558.1 810.5L557.7 821.1L560.1 822.6L560.3 822.9L560.5 823.2L550.5 848.2L550.9 859.1L550.9 860.8L562.6 882.3L569.9 860.8L570.5 858.9L573 850.2L572.7 845.5L563.5 823L563.5 821.3L563.9 818.7ZM212.8 812.5L214.5 809.7L210.1 809.1L208.8 815.1ZM552.8 803L552.8 803Z"/>
<path fill="#cfebf3" d="M170 912.4L148 882.6L156.3 893.9L156.5 893.5L162 885.1L166.9 881.9L181.4 879.1L187.3 878L196.3 874.4L198.3 874.7L205.2 857.6L203.9 848.5L209.7 832.6L225.4 838.7L231.1 836.6L234.5 832.9L264 824.4L266.4 838.8L271.7 856.7L303.1 845.1L323.1 829.3L324.9 855.8L318.7 875L318.5 877.3L317.9 878.1L308.1 895.6L307.1 899.6L305.4 896.4L301.3 892.1L310.1 879.2L295.4 880.1L277.5 870.6L274.8 893.2L264.2 899.7L262.2 917.9L261.4 924.5L246.5 925L238.3 921.5L232.5 918.3L242.9 896L260 897.1L264.1 863.5L238.4 872.1L232.7 869.1L224.3 886.6L221.5 914.4L204.5 893.8L201.6 893.5L188.1 891.4L170 912.4L180.8 925L191.1 934.2L197.7 935.5L214.9 932.1L211.4 941L210.3 959.8L205 959.7L170 912.4ZM532.2 766.8L530.2 769.7L532.8 778.9L529 779.6L514.9 777.3L509.2 770.9L508.7 768.5L506.4 767.9L477.5 769.8L510.9 767.5L528.6 766.8ZM607.6 770.2L608.8 774L615 795.5L615 795.5L616.3 813.1L634.9 825L656.3 798.8L646.9 811.2L634.1 827L612.4 813.2L611.5 801.4L599 777.7L599 777.7L599 777.7L599 777.7L599 777.7L596.9 807L599.4 813.2L598.1 814.3L598.7 820L606 847.7L623.7 839.7L553.6 921.5L552.5 918.1L549.2 913.7L542.5 916.7L536 924.7L535.5 926.5L537 936.6L541.8 936.1L537.8 940.7L535.5 940.9L533.2 925.8L533.7 924.2L543.4 912.2L553.4 907.6L555.6 910.6L557.6 916.3L617.7 846.2L602.5 853L603 848.9L603 847.4L602.9 846.1L596.5 822.2L595.7 814.1L596.8 813.2L593.1 803.9L594.8 779.9L594.9 775.5L596.2 769.4L599.5 769.6ZM473.8 985.9L386.1 983.2L389.9 983.3L390.9 981L403.7 963.2L405.6 959.4L412.4 951.9L424.6 948.1L429.3 945.7L421.1 929.2L425.5 913.5L423.5 903.1L425.3 896.9L425 885.4L441.6 876.9L453.8 877.1L470 868.3L462.9 889.5L458 894.5L446.2 908.8L447 913.8L438.7 948L439 949.1L438.8 950.2L438.9 958.2L438.4 960.8L438 976.4L482.7 983.9L486.8 984.5L490.3 974L490.3 974L490.3 974L495.7 985.1L508 972.5L494.7 986.5ZM443.8 773L447.6 775L443.1 777.9L442.3 779.3L433.1 781.7L434.8 777.7L431.4 774.8L410.7 775.3ZM167 840.4L171.6 842.2L174.9 848.2L169.4 854.9L159.7 853.4L149.7 855.3L141.9 850.1L132.8 855L127.5 837.9L138.6 835L142 830L161.7 836.7ZM355.6 927.4L362.9 927L367.2 906.8L366.9 903.1L367.5 899L372 894.1L388.5 867.7L389.8 865.6L403 839.8L399.7 816.7L398.7 814.9L375.9 809.1L380.1 801.9L387.2 789.5L403.8 779.4L386.6 780.3L411.3 778.2L409.3 781.1L412.7 800.8L403.4 815.6L403.1 816.7L403 839.8L403.4 867.4L398.5 874.5L390.2 893.6L378.4 907.2L380.3 928.1L384.6 947.2L378.8 955.6L378.2 962.1L368.6 966.1L366.6 965.1L354 962.5L345.3 958ZM309.6 949.2L300.4 947.5L297 945.9L296.3 946L293.9 941.8L296.6 940.5L298.8 936.3L304.9 930.1L311.8 929.7L318.4 934L321.5 951.6ZM316.4 795L316.5 795.1L316.3 796.4L315.1 808.4L308.2 804.7L303.7 799.6L314.1 795.4L312.9 795.2L311.7 795.2ZM152.7 807.1L150.4 809.2L147.6 808.9L146.5 807ZM250.2 955.4L259.4 957.6L262.3 963.8L258.4 965.5L247.2 966.1ZM563.9 818.7L563.5 821.3L563.5 823L572.7 845.5L573 850.2L570.5 858.9L569.9 860.8L562.6 882.3L550.9 860.8L550.9 859.1L550.5 848.2L560.5 823.2L560.3 822.9L560.1 822.6L557.7 821.1L558.1 810.5ZM208.8 815.1L210.1 809.1L214.5 809.7L212.8 812.5ZM552.8 803L552.8 803ZM160.6 838.1L143.5 832.2L139.4 838.3L132 840.2L135.5 851.6L141.6 848.4L150.2 854.2L161.3 852L168.5 853.2L172.7 848.2L170.2 843.7L166.8 842.3ZM489.2 986.3L483.4 985.3L434.8 977.2L435.3 956.4L435.3 956.4L435.3 956.4L435.3 956.4L435.3 956.4L411.1 962.8L393.4 983.3ZM349.7 954.7L361.9 960.9L368.2 962.2L369.2 962.7L374 960.7L374.3 957.5L382.4 945.6L378.9 929.8L376.7 906.2L384.5 897.2L395.6 871.7L398.1 868.1L397.9 854.3L391.3 867.2L390.6 868.3L372.5 897.5L369.4 900.8L369.1 903.5L369.2 906L364.3 928.8L358.3 929.1ZM434.4 931L437.9 938.7L444.4 911.7L443.9 908.7L456.6 893.3L460.5 889.4L466 872.9L453.4 879.7L443.9 879.6L431 886.2L431.4 901.5L429 909.8L429.7 913.3L428.2 918.5ZM244.3 920L249.8 922.4L259.7 922.1L260.3 917.6L262.1 901.1L261.6 899.1L243.7 897.9L235.6 915.3ZM316.4 945.7L314.8 936.9L311.5 934.7L301.6 935.4L299.6 937.4L297.2 942L297.2 942L310.4 944.5ZM299 875L316.1 873.9L321.9 856.1L320.6 835.5L305 847.8L271.3 860.1ZM525.4 770.6L519.7 771.6L519.7 771.6L519.7 771.6L519.7 771.6L525.4 770.6L525.4 770.6ZM253.3 963.1L257.1 962.9L258.4 962.3L257.4 960.3L254.3 959.5ZM175.2 903.9L187.2 889.9L202 892.2L205.3 892.6L219.1 909.4L221.4 886.7L231.4 865.6L238.4 869.2L266.5 859.9L260.9 827.2L234.9 834.7L231.9 837.9L225.4 840.3L212.3 835.3L207.5 848.5L208.5 856.1L200.2 876.9L197.7 876.7L186.7 881L182.8 881.7L165.6 885L164 886.1L161 890.7L166.7 895.2ZM400.2 814.3L402.8 781.8L387.3 791.3L381 802.1L377.4 808.5ZM197.5 949.5L202.6 954.4L206.2 954.5L206.9 941.9L209.2 936L197.8 938.3L190.6 936.8L183.3 930.4ZM561 819.6L561 819.6ZM211 810.4L211 810.4ZM552.5 858.6L552.5 860.8L562.4 879L568.6 860.8L569.3 858.5L571.4 851L571.2 846.9L562 824.6L552.1 849.2Z"/>
<path fill="#b9e0ed" d="M637.5 823.8L633.2 829L608.4 813.2L608 807.3L601.8 795.5L600.7 810.1L601.9 813.2L600.4 814.5L600.8 817.9L605.2 834.5L611.1 842.4L612.4 841.5L623.9 835.9L629.8 833.2L549.7 926.7L549.3 925.6L544.9 919.7L541.5 921.2L538.3 925.2L537.7 927.3L538.5 932.3L545.7 931.6L541.8 936.1L537 936.6L535.5 926.5L536 924.7L542.5 916.7L549.2 913.7L552.5 918.1L553.6 921.5L623.7 839.7L606 847.7L606 847.7L598.7 820L598.1 814.3L599.4 813.2L596.9 807L599 777.7L599 777.7L599 777.7L599 777.7L599 777.7L611.5 801.4L612.4 813.2L634.1 827L646.9 811.2ZM166.8 842.3L170.2 843.7L172.7 848.2L168.5 853.2L161.3 852L150.2 854.2L141.6 848.4L135.5 851.6L132 840.2L139.4 838.3L143.5 832.2L160.6 838.1ZM393.4 983.3L411.1 962.8L435.3 956.4L435.3 956.4L435.3 956.4L435.3 956.4L434.8 977.2L483.4 985.3L489.2 986.3ZM358.3 929.1L364.3 928.8L369.2 906L369.1 903.5L369.4 900.8L372.5 897.5L390.6 868.3L391.3 867.2L397.9 854.3L398.1 868.1L395.6 871.7L384.5 897.2L376.7 906.2L378.9 929.8L382.4 945.6L374.3 957.5L374 960.7L369.2 962.7L368.2 962.2L361.9 960.9L349.7 954.7ZM428.2 918.5L429.7 913.3L429 909.8L431.4 901.5L431 886.2L443.9 879.6L453.4 879.7L466 872.9L460.5 889.4L456.6 893.3L443.9 908.7L444.4 911.7L437.9 938.7L434.4 931ZM235.6 915.3L243.7 897.9L261.6 899.1L262.1 901.1L260.3 917.6L259.7 922.1L249.8 922.4L244.3 920ZM310.4 944.5L297.2 942L299.6 937.4L301.6 935.4L311.5 934.7L314.8 936.9L316.4 945.7ZM271.3 860.1L305 847.8L320.6 835.5L321.9 856.1L316.1 873.9L299 875ZM525.4 770.6L525.4 770.6L519.7 771.6L519.7 771.6L519.7 771.6L519.7 771.6L525.4 770.6ZM254.3 959.5L257.4 960.3L258.4 962.3L257.1 962.9L253.3 963.1ZM166.7 895.2L161 890.7L164 886.1L165.6 885L182.8 881.7L186.7 881L197.7 876.7L200.2 876.9L208.5 856.1L207.5 848.5L212.3 835.3L225.4 840.3L231.9 837.9L234.9 834.7L260.9 827.2L266.5 859.9L238.4 869.2L231.4 865.6L221.4 886.7L219.1 909.4L205.3 892.6L202 892.2L187.2 889.9L175.2 903.9ZM377.4 808.5L381 802.1L387.3 791.3L402.8 781.8L400.2 814.3ZM183.3 930.4L190.6 936.8L197.8 938.3L209.2 936L206.9 941.9L206.2 954.5L202.6 954.4L197.5 949.5ZM561 819.6L561 819.6L561 819.6ZM211 810.4L211 810.4ZM552.1 849.2L562 824.6L571.2 846.9L571.4 851L569.3 858.5L568.6 860.8L562.4 879L552.5 860.8L552.5 858.6ZM159.5 839.4L145.1 834.5L140.2 841.7L136.5 842.6L138.2 848.3L141.3 846.7L150.7 853L162.8 850.7L167.7 851.5L170.4 848.1L168.8 845.1L166.5 844.2ZM478.2 985.8L473.3 985L431.6 978L432 960.2L411.2 965.6L396.1 983.3ZM354 951.4L369.8 959.3L369.8 959.3L380.3 944.1L377.4 931.4L375 905.3L378.9 900.8L392.8 868.9L392.8 868.9L392.8 868.9L372.9 900.9L371.4 902.5L371.2 903.9L371.3 905.1L365.8 930.7L360.9 930.9ZM250.4 918.6L253.1 919.8L258.1 919.6L258.3 917.4L259.2 909.2L257.3 900.8L244.5 899.9L238.8 912.3ZM311.3 939.8M302.6 869.8L314.8 869L319 856.3L318 841.6L306.9 850.4L282.8 859.2ZM180.3 895.5L186.4 888.5L202.5 891L206 891.4L216.8 904.5L218.6 886.8L230.2 862.2L238.3 866.4L262.7 858.3L257.9 829.9L235.3 836.5L232.7 839.3L225.4 841.9L215 837.9L211.1 848.5L211.9 854.6L202 879.2L199.1 878.9L186.1 884L184.1 884.4L171.8 886.7ZM398.6 813L400.9 784.8L387.4 793L381.9 802.4L378.8 807.9ZM190 939.4L200.3 949.1L202 949.1L202.4 942.9L203.6 939.9L197.8 941L190 939.4L190 939.4ZM436.2 910.9L439.7 918.5L441.9 909.6L441.7 908.6L455.3 892L458.1 889.3L462 877.5L453 882.4L446.2 882.3L437 887L437.5 906.2ZM554 858.1L554 860.8L562.2 875.6L567.3 860.8L568.1 858L569.9 851.8L569.6 848.4L562 829.8L553.8 850.3Z"/>
<path fill="#a1d1e5" d="M545.7 931.6L538.5 932.3L537.7 927.3L538.3 925.2L541.5 921.2L544.9 919.7L549.3 925.6L549.7 926.7L629.8 833.2L623.9 835.9L612.4 841.5L611.1 842.4L605.2 834.5L600.8 817.9L600.4 814.5L601.9 813.2L600.7 810.1L601.8 795.5L608 807.3L608.4 813.2L633.2 829L637.5 823.8L632.8 830L547.7 929.3ZM166.5 844.2L168.8 845.1L170.4 848.1L167.7 851.5L162.8 850.7L150.7 853L141.3 846.7L138.2 848.3L136.5 842.6L140.2 841.7L145.1 834.5L159.5 839.4ZM396.1 983.3L411.2 965.6L432 960.2L431.6 978L473.3 985L478.2 985.8ZM360.9 930.9L365.8 930.7L371.3 905.1L371.2 903.9L371.4 902.5L372.9 900.9L392.8 868.9L392.8 868.9L378.9 900.8L375 905.3L377.4 931.4L380.3 944.1L369.8 959.3L369.8 959.3L354 951.4ZM238.8 912.3L244.5 899.9L257.3 900.8L259.2 909.2L258.3 917.4L258.1 919.6L253.1 919.8L250.4 918.6ZM311.3 939.8M282.8 859.2L306.9 850.4L318 841.6L319 856.3L314.8 869L302.6 869.8ZM171.8 886.7L184.1 884.4L186.1 884L199.1 878.9L202 879.2L211.9 854.6L211.1 848.5L215 837.9L225.4 841.9L232.7 839.3L235.3 836.5L257.9 829.9L262.7 858.3L238.3 866.4L230.2 862.2L218.6 886.8L216.8 904.5L206 891.4L202.5 891L186.4 888.5L180.3 895.5ZM378.8 807.9L381.9 802.4L387.4 793L400.9 784.8L398.6 813ZM190 939.4L190 939.4L197.8 941L203.6 939.9L202.4 942.9L202 949.1L200.3 949.1L190 939.4ZM437.5 906.2L437 887L446.2 882.3L453 882.4L462 877.5L458.1 889.3L455.3 892L441.7 908.6L441.9 909.6L439.7 918.6L436.2 910.9ZM553.8 850.3L562 829.8L569.6 848.4L569.9 851.8L568.1 858L567.3 860.8L562.2 875.6L554 860.8L554 858.1ZM158.5 840.7L146.6 836.7L141 845L151.2 851.9L164.4 849.3L166.8 849.7L168.2 848.1L167.4 846.6L166.3 846.1ZM467.2 985.3L463.1 984.6L428.4 978.8L428.7 963.9L411.4 968.5L398.8 983.2ZM358.4 948L370.2 954L378.1 942.6L376 933.1L373.3 904.3L367.2 932.5L363.6 932.7ZM256.4 917.2L253 902.4L245.4 901.9L241.9 909.3ZM306.2 864.6L313.5 864.2L316 856.5L315.4 847.7L308.8 853L294.3 858.3ZM625.8 832.2L604.5 813.2L602.8 814.6L602.9 815.8L604.4 821.3L616.2 837.1L618.7 835.3ZM185.5 887L202.9 889.7L206.7 890.1L214.4 899.5L215.7 886.9L229 858.8L238.3 863.6L258.9 856.8L254.8 832.7L235.7 838.2L233.5 840.6L225.4 843.6L217.6 840.6L214.7 848.5L215.3 853.1L203.9 881.5L200.5 881.1ZM396.9 811.7L398.9 787.8L387.5 794.7L382.9 802.7L380.2 807.4ZM197.9 943.8M443.4 903.6L454 890.8L455.6 889.2L458 882.1L452.6 885L448.5 885L443 887.8ZM555.6 857.6L555.6 860.7L562 872.3L565.9 860.7L566.9 857.5L568.3 852.6L568.1 849.9L562 835L555.4 851.4ZM540.6 925.7L540 928Z"/>
<path fill="#8abeda" d="M166.3 846.1L167.4 846.6L168.2 848.1L166.8 849.7L164.4 849.3L151.2 851.9L141 845L146.6 836.7L158.5 840.7ZM398.8 983.2L411.4 968.5L428.7 963.9L428.4 978.8L463.1 984.6L467.2 985.3ZM363.6 932.7L367.2 932.5L373.3 904.3L376 933.1L378.1 942.6L370.2 954L358.4 948ZM241.9 909.3L245.4 901.9L253 902.4L256.4 917.2ZM294.3 858.3L308.8 853L315.4 847.7L316 856.5L313.5 864.2L306.2 864.6ZM618.7 835.3L616.2 837.1L604.4 821.3L602.9 815.8L602.8 814.6L604.5 813.2L625.8 832.2ZM185.5 887L200.5 881.1L203.9 881.5L215.3 853.1L214.7 848.5L217.6 840.6L225.4 843.6L233.5 840.6L235.7 838.2L254.8 832.7L258.9 856.8L238.3 863.6L229 858.8L215.7 886.9L214.4 899.5L206.7 890.1L202.9 889.7ZM380.2 807.4L382.9 802.7L387.5 794.7L398.9 787.8L396.9 811.7ZM197.9 943.8M443 887.8L448.5 885L452.6 885L458 882.1L455.7 889.2L454 890.8L443.4 903.6ZM555.4 851.4L562 835L568.1 849.9L568.3 852.6L566.9 857.5L565.9 860.7L562 872.3L555.6 860.7L555.6 857.6ZM540.6 925.7L540 928ZM157.4 842.1L148.2 838.9L143.8 845.4L151.8 850.7L166 848ZM456.2 984.8L452.9 984.2L425.2 979.6L425.4 967.7L411.6 971.3L401.5 983.1ZM362.8 944.7L370.7 948.6L375.9 941.1L374.5 934.7L372.7 915.5L368.7 934.3L366.3 934.5ZM249.9 908.9L248.7 904L246.2 903.8L245 906.3ZM309.8 859.5L312.2 859.3L313.1 856.8L312.9 853.8L310.7 855.6L305.8 857.4ZM225.4 845.2L220.2 843.2L218.2 848.5L218.7 851.5L205.7 883.7L201.9 883.3L192.9 886.8L203.3 888.5L207.4 888.9L212 894.5L212.8 887L227.8 855.4L238.2 860.7L255.1 855.2L251.8 835.5L236.1 840L234.3 842ZM395.3 810.3L396.9 790.8L387.6 796.5L383.8 803L381.6 806.8ZM449.1 893.9L452.7 889.6L453.2 889.1L454 886.7L452.2 887.7L450.8 887.7L449 888.6ZM557.2 857.1L557.2 860.7L561.7 869L564.6 860.7L565.7 857.1L566.7 853.3L566.6 851.3L562 840.1L557.1 852.5Z"/>
<path fill="#72abd0" d="M166 848L166 848L151.8 850.7L143.8 845.4L148.2 838.9L157.4 842.1ZM401.5 983.1L411.6 971.3L425.4 967.7L425.2 979.6L452.9 984.2L456.2 984.8ZM366.3 934.5L368.7 934.3L372.7 915.5L374.5 934.7L375.9 941.1L370.7 948.6L362.8 944.7ZM245 906.3L246.2 903.8L248.7 904L249.9 908.9ZM305.8 857.4L310.7 855.6L312.9 853.8L313.1 856.8L312.2 859.3L309.8 859.5ZM234.3 842L236.1 840L251.8 835.5L255.1 855.2L238.2 860.7L227.8 855.4L212.8 887L212 894.5L207.4 888.9L203.3 888.5L192.9 886.8L201.9 883.3L205.7 883.7L218.7 851.5L218.2 848.5L220.2 843.2L225.4 845.2ZM381.6 806.8L383.8 803L387.6 796.5L396.9 790.8L395.3 810.3ZM449 888.6L450.8 887.7L452.2 887.7L454 886.7L453.2 889.1L452.7 889.6L449.1 893.9ZM557.1 852.5L562 840.1L566.6 851.3L566.7 853.3L565.7 857.1L564.6 860.7L561.7 869L557.2 860.7L557.2 857.1ZM156.3 843.4L149.7 841.1L146.6 845.8L152.3 849.6L162.5 847.6ZM445.3 984.3L442.8 983.9L422 980.4L422.2 971.5L411.8 974.2L404.2 983ZM367.2 941.3L371.2 943.3L373.8 939.5L373.1 936.4L372.2 926.8L370.1 936.2L368.9 936.2ZM225.4 846.9L222.8 845.9L221.8 848.5L222 850L207.6 886L203.3 885.5L200.3 886.7L203.8 887.2L208.1 887.7L209.7 889.6L209.9 887.1L226.6 851.9L238.2 857.9L251.3 853.6L248.7 838.3L236.6 841.8L235.2 843.3ZM393.7 809L394.9 793.8L387.7 798.2L384.7 803.3L383 806.3ZM558.8 856.7L558.8 860.7L561.5 865.6L563.2 860.7L564.4 856.6L565.1 854.1L565.1 852.8L562 845.3L558.7 853.5Z"/>
<path fill="#5c90c2" d="M162.5 847.6L152.3 849.6L146.6 845.8L149.7 841.1L156.3 843.4ZM404.2 983L411.8 974.2L422.2 971.5L422 980.4L442.8 983.9L445.3 984.3ZM368.9 936.2L370.1 936.2L372.2 926.8L373.1 936.4L373.8 939.5L371.2 943.3L367.2 941.3ZM235.2 843.3L236.6 841.8L248.7 838.3L251.3 853.6L238.2 857.9L226.6 851.9L209.9 887.1L209.7 889.6L208.1 887.7L203.8 887.2L200.3 886.7L203.3 885.5L207.6 886L222 850L221.8 848.5L222.8 845.9L225.4 846.9ZM383 806.3L384.7 803.3L387.7 798.2L394.9 793.8L393.7 809ZM558.7 853.5L562 845.3L565.1 852.8L565.1 854.1L564.4 856.6L563.2 860.7L561.5 865.6L558.8 860.7L558.8 856.7ZM155.2 844.7L151.3 843.4L149.4 846.1L152.8 848.4L158.9 847.3ZM434.3 983.8L432.6 983.5L418.7 981.2L418.9 975.3L411.9 977.1L406.9 983ZM371.6 938L371.6 938L371.6 938L371.6 938L371.6 938L371.6 938ZM225.4 848.5L225.4 848.5L225.4 848.5L225.4 848.5L225.4 848.5L238.1 855.1L247.5 852L245.6 841.1L237 843.6L236 844.6ZM392.1 807.6L392.9 796.8L387.8 800L385.7 803.6L384.5 805.7ZM560.4 856.2L560.4 860.6L561.3 862.3L561.9 860.6L563.2 856.2L563.6 854.9L563.5 854.2L562 850.5L560.4 854.6Z"/>
<path fill="#4878b6" d="M158.9 847.3L152.8 848.4L149.4 846.1L151.3 843.4L155.2 844.7ZM406.9 983L411.9 977.1L418.9 975.3L418.7 981.2L432.6 983.5L434.3 983.8ZM371.6 938L371.6 938L371.6 938L371.6 938L371.6 938L371.6 938ZM236 844.6L237 843.6L245.6 841.1L247.5 852L238.1 855.1L225.4 848.5L225.4 848.5L225.4 848.5L225.4 848.5L225.4 848.5ZM384.5 805.7L385.7 803.6L387.8 800L392.9 796.8L392.1 807.6ZM560.4 854.6L562 850.5L563.5 854.2L563.6 854.9L563.2 856.2L561.9 860.6L561.3 862.3L560.4 860.6L560.4 856.2ZM154.1 846L152.8 845.6L152.2 846.5L153.3 847.3L155.4 846.9ZM423.3 983.3L422.5 983.2L415.5 982L415.6 979L412.1 979.9L409.6 982.9ZM230.4 848.3L238.1 852.2L243.7 850.4L242.6 843.8L237.4 845.3L236.8 846ZM390.4 806.3L391 799.8L387.9 801.7L386.6 803.9L385.9 805.1ZM562 855.7L562 855.7L562 855.7L562 855.7L562 855.7Z"/>
<path fill="#3e5ea8" d="M155.4 846.9L153.3 847.3L152.2 846.5L152.8 845.6L154.1 846ZM409.6 982.9L412.1 979.9L415.6 979L415.5 982L422.5 983.2L423.3 983.3ZM236.8 846L237.4 845.3L242.6 843.8L243.7 850.4L238.1 852.2L230.4 848.3ZM385.9 805.1L386.6 803.9L387.9 801.7L391 799.8L390.4 806.3ZM562 855.7L562 855.7L562 855.7L562 855.7ZM412.3 982.8M235.5 848.1L238 849.4L239.9 848.8L239.5 846.6L237.8 847.1L237.6 847.3ZM388.8 805L389 802.8L388 803.4L387.5 804.2L387.3 804.6Z"/>
<path fill="#35429b" d="M412.3 982.8M237.6 847.3L237.8 847.1L239.5 846.6L239.9 848.8L238 849.4L235.5 848.1ZM387.3 804.6L387.5 804.2L388 803.4L389 802.8L388.8 805Z"/>
</g>
<polygon fill="#fff" points="85.4,797.8 149.1,807.4 213,809.2 273.3,803.9 380,784.4 443.3,773.8 520.2,767.8 560.5,767.8 619,772 670.4,779.8 670.5,762.5 85.5,762.5"/>
<g shape-rendering="crispEdges">
<rect x="679.5" y="982.68" width="27" height="10.04" fill="#af0926"/>
<rect x="679.5" y="972.64" width="27" height="10.04" fill="#c41e27"/>
<rect x="679.5" y="962.59" width="27" height="10.04" fill="#d93429"/>
<rect x="679.5" y="952.55" width="27" height="10.04" fill="#e54e35"/>
<rect x="679.5" y="942.51" width="27" height="10.04" fill="#f36b42"/>
<rect x="679.5" y="932.46" width="27" height="10.04" fill="#f8864f"/>
<rect x="679.5" y="922.42" width="27" height="10.04" fill="#fba35c"/>
<rect x="679.5" y="912.38" width="27" height="10.04" fill="#fdbb6d"/>
<rect x="679.5" y="902.33" width="27" height="10.04" fill="#fed081"/>
<rect x="679.5" y="892.29" width="27" height="10.04" fill="#fee496"/>
<rect x="679.5" y="882.25" width="27" height="10.04" fill="#fff1aa"/>
<rect x="679.5" y="872.20" width="27" height="10.04" fill="#feffc0"/>
<rect x="679.5" y="862.16" width="27" height="10.04" fill="#f1fad9"/>
<rect x="679.5" y="852.11" width="27" height="10.04" fill="#e4f4f1"/>
<rect x="679.5" y="842.07" width="27" height="10.04" fill="#cfebf3"/>
<rect x="679.5" y="832.03" width="27" height="10.04" fill="#b9e0ed"/>
<rect x="679.5" y="821.98" width="27" height="10.04" fill="#a1d1e5"/>
<rect x="679.5" y="811.94" width="27" height="10.04" fill="#8abeda"/>
<rect x="679.5" y="801.90" width="27" height="10.04" fill="#72abd0"/>
<rect x="679.5" y="791.85" width="27" height="10.04" fill="#5c90c2"/>
<rect x="679.5" y="781.81" width="27" height="10.04" fill="#4878b6"/>
<rect x="679.5" y="771.77" width="27" height="10.04" fill="#3e5ea8"/>
<rect x="679.5" y="761.72" width="27" height="10.04" fill="#35429b"/>
</g>
<g fill="none" stroke="#000" stroke-width="1.11">
<rect x="85.5" y="762.5" width="585" height="231"/>
<rect x="679.5" y="762.5" width="27" height="231"/>
<path d="M112.5 993.5 v4.86M198.5 993.5 v4.86M284.5 993.5 v4.86M371.5 993.5 v4.86M457.5 993.5 v4.86M543.5 993.5 v4.86M630.5 993.5 v4.86M85.5 949.5 h-4.86M85.5 895.5 h-4.86M85.5 842.5 h-4.86M85.5 788.5 h-4.86M706.5 993.5 h4.86M706.5 955.5 h4.86M706.5 917.5 h4.86M706.5 879.5 h4.86M706.5 841.5 h4.86M706.5 804.5 h4.86M706.5 766.5 h4.86"/>
</g>
<text x="86.53" y="1018.06" font-size="19.44" textLength="51.25" lengthAdjust="spacingAndGlyphs">−300</text>
<text x="172.84" y="1018.06" font-size="19.44" textLength="51.25" lengthAdjust="spacingAndGlyphs">−200</text>
<text x="259.15" y="1018.06" font-size="19.44" textLength="51.25" lengthAdjust="spacingAndGlyphs">−100</text>
<text x="365.96" y="1018.06" font-size="19.44" textLength="10.25" lengthAdjust="spacingAndGlyphs">0</text>
<text x="439.96" y="1018.06" font-size="19.44" textLength="34.88" lengthAdjust="spacingAndGlyphs">100</text>
<text x="526.26" y="1018.06" font-size="19.44" textLength="34.88" lengthAdjust="spacingAndGlyphs">200</text>
<text x="612.57" y="1018.06" font-size="19.44" textLength="34.88" lengthAdjust="spacingAndGlyphs">300</text>
<text x="35.56" y="956.91" font-size="19.44" textLength="39.12" lengthAdjust="spacingAndGlyphs">−50</text>
<text x="64.43" y="903.21" font-size="19.44" textLength="10.25" lengthAdjust="spacingAndGlyphs">0</text>
<text x="51.93" y="849.52" font-size="19.44" textLength="22.75" lengthAdjust="spacingAndGlyphs">50</text>
<text x="39.81" y="795.82" font-size="19.44" textLength="34.88" lengthAdjust="spacingAndGlyphs">100</text>
<text x="717.13" y="1000.58" font-size="19.44" textLength="101.38" lengthAdjust="spacingAndGlyphs">-2.40e+00</text>
<text x="717.13" y="962.79" font-size="19.44" textLength="101.50" lengthAdjust="spacingAndGlyphs">-1.64e+00</text>
<text x="717.13" y="925.01" font-size="19.44" textLength="92.12" lengthAdjust="spacingAndGlyphs">-8.90e-01</text>
<text x="717.13" y="887.22" font-size="19.44" textLength="92.25" lengthAdjust="spacingAndGlyphs">-1.38e-01</text>
<text x="717.13" y="849.43" font-size="19.44" textLength="85.25" lengthAdjust="spacingAndGlyphs">6.15e-01</text>
<text x="717.13" y="811.64" font-size="19.44" textLength="94.38" lengthAdjust="spacingAndGlyphs">1.37e+00</text>
<text x="717.13" y="773.85" font-size="19.44" textLength="94.38" lengthAdjust="spacingAndGlyphs">2.12e+00</text>
<text x="276.40" y="754.00" font-size="23.33" textLength="203.00" lengthAdjust="spacingAndGlyphs">Normalized Misfit</text>
<text x="295.65" y="1042.61" font-size="19.44" textLength="164.50" lengthAdjust="spacingAndGlyphs">Line position (m)</text>
<text transform="translate(24.00 982.83) rotate(-90)" font-size="19.44" textLength="207.00" lengthAdjust="spacingAndGlyphs">Pseudo-elevation (m)</text>
</svg>
</body></html>
